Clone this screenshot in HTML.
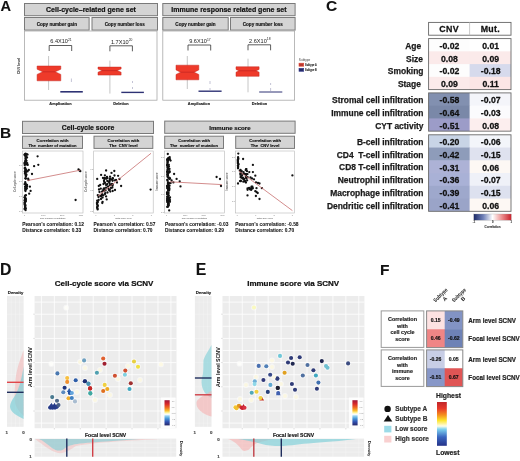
<!DOCTYPE html>
<html><head><meta charset="utf-8"><style>
html,body{margin:0;padding:0;background:#fff;}
body{width:520px;height:461px;overflow:hidden;}
svg{display:block;filter:blur(0.3px);font-family:'Liberation Sans', sans-serif;}
</style></head><body>
<svg width="520" height="461" viewBox="0 0 520 461">
<text x="0.50" y="11.20" font-size="14.6" font-weight="bold" text-anchor="start" fill="#111" stroke="#111" stroke-width="0.10" stroke-linejoin="round" >A</text>
<text x="0.00" y="137.70" font-size="15.5" font-weight="bold" text-anchor="start" fill="#111" stroke="#111" stroke-width="0.10" stroke-linejoin="round" >B</text>
<text x="325.90" y="11.30" font-size="15.5" font-weight="bold" text-anchor="start" fill="#111" stroke="#111" stroke-width="0.10" stroke-linejoin="round" >C</text>
<text x="0.00" y="274.60" font-size="15.8" font-weight="bold" text-anchor="start" fill="#111" stroke="#111" stroke-width="0.10" stroke-linejoin="round" >D</text>
<text x="195.70" y="274.60" font-size="15.8" font-weight="bold" text-anchor="start" fill="#111" stroke="#111" stroke-width="0.10" stroke-linejoin="round" >E</text>
<text x="380.00" y="274.60" font-size="15.5" font-weight="bold" text-anchor="start" fill="#111" stroke="#111" stroke-width="0.10" stroke-linejoin="round" >F</text>
<rect x="24.50" y="3.50" width="133.00" height="12.20" fill="#d4d4d4" stroke="#7a7a7a" stroke-width="1" />
<text x="91.00" y="11.90" font-size="7.0" font-weight="bold" text-anchor="middle" fill="#111" stroke="#111" stroke-width="0.21" stroke-linejoin="round" >Cell-cycle–related gene set</text>
<rect x="24.50" y="17.50" width="64.60" height="12.60" fill="#d4d4d4" stroke="#7a7a7a" stroke-width="1" />
<text x="56.80" y="25.50" font-size="4.6" font-weight="bold" text-anchor="middle" fill="#111" stroke="#111" stroke-width="0.14" stroke-linejoin="round" >Copy number gain</text>
<rect x="92.00" y="17.50" width="65.50" height="12.60" fill="#d4d4d4" stroke="#7a7a7a" stroke-width="1" />
<text x="124.75" y="25.50" font-size="4.6" font-weight="bold" text-anchor="middle" fill="#111" stroke="#111" stroke-width="0.14" stroke-linejoin="round" >Copy number loss</text>
<rect x="24.50" y="31.00" width="132.50" height="69.20" fill="#ffffff" stroke="#a8a8a8" stroke-width="0.8" />
<rect x="162.80" y="3.50" width="132.30" height="12.20" fill="#d4d4d4" stroke="#7a7a7a" stroke-width="1" />
<text x="228.95" y="11.90" font-size="7.0" font-weight="bold" text-anchor="middle" fill="#111" stroke="#111" stroke-width="0.21" stroke-linejoin="round" >Immune response related gene set</text>
<rect x="162.80" y="17.50" width="65.40" height="12.60" fill="#d4d4d4" stroke="#7a7a7a" stroke-width="1" />
<text x="195.50" y="25.50" font-size="4.6" font-weight="bold" text-anchor="middle" fill="#111" stroke="#111" stroke-width="0.14" stroke-linejoin="round" >Copy number gain</text>
<rect x="230.50" y="17.50" width="64.60" height="12.60" fill="#d4d4d4" stroke="#7a7a7a" stroke-width="1" />
<text x="262.80" y="25.50" font-size="4.6" font-weight="bold" text-anchor="middle" fill="#111" stroke="#111" stroke-width="0.14" stroke-linejoin="round" >Copy number loss</text>
<rect x="162.80" y="31.00" width="131.80" height="69.20" fill="#ffffff" stroke="#a8a8a8" stroke-width="0.8" />
<text x="0" y="0" font-size="3.6" font-weight="bold" fill="#222" text-anchor="middle" transform="translate(19.6,66) rotate(-90)">CNV level</text>
<text x="22.30" y="35.50" font-size="2.5" font-weight="normal" text-anchor="end" fill="#888" >-</text>
<text x="160.60" y="35.50" font-size="2.5" font-weight="normal" text-anchor="end" fill="#888" >-</text>
<text x="22.30" y="57.00" font-size="2.5" font-weight="normal" text-anchor="end" fill="#888" >-</text>
<text x="160.60" y="57.00" font-size="2.5" font-weight="normal" text-anchor="end" fill="#888" >-</text>
<text x="22.30" y="78.00" font-size="2.5" font-weight="normal" text-anchor="end" fill="#888" >-</text>
<text x="160.60" y="78.00" font-size="2.5" font-weight="normal" text-anchor="end" fill="#888" >-</text>
<text x="22.30" y="98.00" font-size="2.5" font-weight="normal" text-anchor="end" fill="#888" >-</text>
<text x="160.60" y="98.00" font-size="2.5" font-weight="normal" text-anchor="end" fill="#888" >-</text>
<line x1="48.60" y1="56.00" x2="48.60" y2="90.00" stroke="#b8b8b8" stroke-width="0.8" />
<polygon points="37.10,66.00 60.80,66.00 60.80,69.20 55.20,71.80 60.80,74.40 60.80,80.80 37.10,80.80 37.10,74.40 42.70,71.80 37.10,69.20" fill="#ee3a2a" stroke="#c42a22" stroke-width="0.5"/>
<line x1="42.70" y1="71.80" x2="55.20" y2="71.80" stroke="#b82020" stroke-width="0.6" />
<line x1="60.30" y1="91.80" x2="82.80" y2="91.80" stroke="#2e3274" stroke-width="1.6" />
<line x1="71.40" y1="78.50" x2="71.40" y2="82.00" stroke="#9a9ab8" stroke-width="0.6" />
<polyline points="49.20,51.00 49.20,45.50 71.70,45.50 71.70,51.00" fill="none" stroke="#333" stroke-width="0.8"/>
<text x="60.95" y="43.20" font-size="5.6" text-anchor="middle" fill="#222">6.4X10<tspan font-size="3.3" dy="-2.1">21</tspan></text>
<line x1="109.90" y1="60.60" x2="109.90" y2="93.60" stroke="#b8b8b8" stroke-width="0.8" />
<polygon points="98.00,67.10 121.10,67.10 121.10,69.00 117.10,70.60 121.10,72.20 121.10,75.10 98.00,75.10 98.00,72.20 102.00,70.60 98.00,69.00" fill="#ee3a2a" stroke="#c42a22" stroke-width="0.5"/>
<line x1="102.00" y1="70.60" x2="117.10" y2="70.60" stroke="#b82020" stroke-width="0.6" />
<line x1="121.30" y1="92.40" x2="143.90" y2="92.40" stroke="#2e3274" stroke-width="1.4" />
<line x1="132.50" y1="81.00" x2="132.50" y2="83.00" stroke="#9a9ab8" stroke-width="0.6" />
<line x1="132.50" y1="87.00" x2="132.50" y2="89.00" stroke="#9a9ab8" stroke-width="0.6" />
<polyline points="109.90,51.30 109.90,45.80 132.40,45.80 132.40,51.30" fill="none" stroke="#333" stroke-width="0.8"/>
<text x="121.65" y="43.50" font-size="5.6" text-anchor="middle" fill="#222">1.7X10<tspan font-size="3.3" dy="-2.1">20</tspan></text>
<line x1="187.30" y1="56.00" x2="187.30" y2="89.00" stroke="#b8b8b8" stroke-width="0.8" />
<polygon points="176.00,65.20 198.80,65.20 198.80,69.90 194.20,72.20 198.80,74.50 198.80,79.80 176.00,79.80 176.00,74.50 180.60,72.20 176.00,69.90" fill="#ee3a2a" stroke="#c42a22" stroke-width="0.5"/>
<line x1="180.60" y1="72.20" x2="194.20" y2="72.20" stroke="#b82020" stroke-width="0.6" />
<line x1="198.50" y1="91.20" x2="221.60" y2="91.20" stroke="#2e3274" stroke-width="1.4" />
<line x1="210.00" y1="81.00" x2="210.00" y2="84.00" stroke="#9a9ab8" stroke-width="0.6" />
<line x1="210.00" y1="88.00" x2="210.00" y2="90.00" stroke="#9a9ab8" stroke-width="0.6" />
<polyline points="188.00,50.50 188.00,45.00 210.70,45.00 210.70,50.50" fill="none" stroke="#333" stroke-width="0.8"/>
<text x="199.85" y="42.70" font-size="5.6" text-anchor="middle" fill="#222">9.6X10<tspan font-size="3.3" dy="-2.1">17</tspan></text>
<line x1="248.00" y1="58.70" x2="248.00" y2="92.30" stroke="#b8b8b8" stroke-width="0.8" />
<polygon points="236.00,66.80 259.10,66.80 259.10,69.40 256.20,70.80 259.10,72.20 259.10,76.30 236.00,76.30 236.00,72.20 238.90,70.80 236.00,69.40" fill="#ee3a2a" stroke="#c42a22" stroke-width="0.5"/>
<line x1="238.90" y1="70.80" x2="256.20" y2="70.80" stroke="#b82020" stroke-width="0.6" />
<line x1="259.20" y1="92.00" x2="282.30" y2="92.00" stroke="#2e3274" stroke-width="1.0" />
<line x1="270.60" y1="83.00" x2="270.60" y2="85.00" stroke="#9a9ab8" stroke-width="0.6" />
<line x1="270.60" y1="88.00" x2="270.60" y2="91.00" stroke="#9a9ab8" stroke-width="0.6" />
<polyline points="248.00,50.30 248.00,44.80 270.60,44.80 270.60,50.30" fill="none" stroke="#333" stroke-width="0.8"/>
<text x="259.80" y="42.50" font-size="5.6" text-anchor="middle" fill="#222">2.6X10<tspan font-size="3.3" dy="-2.1">18</tspan></text>
<text x="60.50" y="104.60" font-size="3.9" font-weight="bold" text-anchor="middle" fill="#222" stroke="#222" stroke-width="0.14" stroke-linejoin="round" >Amplication</text>
<text x="121.00" y="104.60" font-size="3.9" font-weight="bold" text-anchor="middle" fill="#222" stroke="#222" stroke-width="0.14" stroke-linejoin="round" >Deletion</text>
<text x="199.00" y="104.60" font-size="3.9" font-weight="bold" text-anchor="middle" fill="#222" stroke="#222" stroke-width="0.14" stroke-linejoin="round" >Amplication</text>
<text x="259.50" y="104.60" font-size="3.9" font-weight="bold" text-anchor="middle" fill="#222" stroke="#222" stroke-width="0.14" stroke-linejoin="round" >Deletion</text>
<text x="298.80" y="60.60" font-size="3.4" font-weight="normal" text-anchor="start" fill="#444" textLength="11.5" lengthAdjust="spacingAndGlyphs">Subtype</text>
<rect x="299.00" y="63.20" width="4.70" height="3.00" fill="#b83a30" stroke="#e04434" stroke-width="0.6" />
<rect x="299.00" y="68.30" width="4.70" height="3.00" fill="#252a68" stroke="#3a4090" stroke-width="0.6" />
<text x="305.10" y="65.70" font-size="3.4" font-weight="bold" text-anchor="start" fill="#333" stroke="#333" stroke-width="0.14" stroke-linejoin="round" textLength="11.6" lengthAdjust="spacingAndGlyphs">Subtype A</text>
<text x="305.10" y="70.80" font-size="3.4" font-weight="bold" text-anchor="start" fill="#333" stroke="#333" stroke-width="0.14" stroke-linejoin="round" textLength="11.6" lengthAdjust="spacingAndGlyphs">Subtype B</text>
<rect x="22.50" y="121.30" width="131.00" height="12.20" fill="#d4d4d4" stroke="#7a7a7a" stroke-width="1" />
<text x="88.00" y="130.30" font-size="6.9" font-weight="bold" text-anchor="middle" fill="#111" stroke="#111" stroke-width="0.21" stroke-linejoin="round" >Cell-cycle score</text>
<rect x="164.70" y="121.10" width="130.40" height="12.20" fill="#d4d4d4" stroke="#7a7a7a" stroke-width="1" />
<text x="229.90" y="129.60" font-size="6.1" font-weight="bold" text-anchor="middle" fill="#111" stroke="#111" stroke-width="0.18" stroke-linejoin="round" >Immune score</text>
<rect x="22.50" y="136.20" width="60.00" height="12.20" fill="#d4d4d4" stroke="#7a7a7a" stroke-width="1" />
<text x="52.50" y="141.60" font-size="4.2" font-weight="bold" text-anchor="middle" fill="#111" stroke="#111" stroke-width="0.14" stroke-linejoin="round" xml:space="preserve">Correlation with</text>
<text x="52.50" y="146.50" font-size="4.1" font-weight="bold" text-anchor="middle" fill="#111" stroke="#111" stroke-width="0.14" stroke-linejoin="round" xml:space="preserve">The  number of mutation</text>
<rect x="94.00" y="136.20" width="58.80" height="12.20" fill="#d4d4d4" stroke="#7a7a7a" stroke-width="1" />
<text x="123.40" y="141.60" font-size="4.2" font-weight="bold" text-anchor="middle" fill="#111" stroke="#111" stroke-width="0.14" stroke-linejoin="round" xml:space="preserve">Correlation with</text>
<text x="123.40" y="146.50" font-size="4.1" font-weight="bold" text-anchor="middle" fill="#111" stroke="#111" stroke-width="0.14" stroke-linejoin="round" xml:space="preserve">The  CNV level</text>
<rect x="164.70" y="136.20" width="58.80" height="12.20" fill="#d4d4d4" stroke="#7a7a7a" stroke-width="1" />
<text x="194.10" y="141.60" font-size="4.2" font-weight="bold" text-anchor="middle" fill="#111" stroke="#111" stroke-width="0.14" stroke-linejoin="round" xml:space="preserve">Correlation with</text>
<text x="194.10" y="146.50" font-size="4.1" font-weight="bold" text-anchor="middle" fill="#111" stroke="#111" stroke-width="0.14" stroke-linejoin="round" xml:space="preserve">The  number of mutation</text>
<rect x="235.70" y="136.20" width="58.80" height="12.20" fill="#d4d4d4" stroke="#7a7a7a" stroke-width="1" />
<text x="265.10" y="141.60" font-size="4.2" font-weight="bold" text-anchor="middle" fill="#111" stroke="#111" stroke-width="0.14" stroke-linejoin="round" xml:space="preserve">Correlation with</text>
<text x="265.10" y="146.50" font-size="4.1" font-weight="bold" text-anchor="middle" fill="#111" stroke="#111" stroke-width="0.14" stroke-linejoin="round" xml:space="preserve">The  CNV level</text>
<rect x="22.50" y="151.00" width="60.50" height="62.00" fill="#fff" stroke="#b8b8b8" stroke-width="0.6" />
<rect x="93.70" y="151.00" width="59.50" height="62.00" fill="#fff" stroke="#b8b8b8" stroke-width="0.6" />
<rect x="164.50" y="151.00" width="59.90" height="62.00" fill="#fff" stroke="#b8b8b8" stroke-width="0.6" />
<rect x="235.40" y="151.00" width="59.00" height="62.00" fill="#fff" stroke="#b8b8b8" stroke-width="0.6" />
<text x="0" y="0" font-size="2.7" font-weight="bold" fill="#666" text-anchor="middle" transform="translate(15.50,181.5) rotate(-90)">Cell-cycle score</text>
<text x="21.90" y="166.30" font-size="2.1" font-weight="normal" text-anchor="end" fill="#777" >0.0</text>
<line x1="22.00" y1="165.50" x2="22.50" y2="165.50" stroke="#999" stroke-width="0.3" />
<text x="21.90" y="181.50" font-size="2.1" font-weight="normal" text-anchor="end" fill="#777" >0.0</text>
<line x1="22.00" y1="180.70" x2="22.50" y2="180.70" stroke="#999" stroke-width="0.3" />
<text x="21.90" y="196.90" font-size="2.1" font-weight="normal" text-anchor="end" fill="#777" >0.0</text>
<line x1="22.00" y1="196.10" x2="22.50" y2="196.10" stroke="#999" stroke-width="0.3" />
<text x="21.90" y="212.10" font-size="2.1" font-weight="normal" text-anchor="end" fill="#777" >0.0</text>
<line x1="22.00" y1="211.30" x2="22.50" y2="211.30" stroke="#999" stroke-width="0.3" />
<text x="52.75" y="218.60" font-size="2.4" font-weight="normal" text-anchor="middle" fill="#444" >The number of mutation</text>
<text x="24.50" y="215.60" font-size="2.0" font-weight="normal" text-anchor="middle" fill="#777" >0</text>
<text x="43.33" y="215.60" font-size="2.0" font-weight="normal" text-anchor="middle" fill="#777" >1000</text>
<text x="62.17" y="215.60" font-size="2.0" font-weight="normal" text-anchor="middle" fill="#777" >2000</text>
<text x="81.00" y="215.60" font-size="2.0" font-weight="normal" text-anchor="middle" fill="#777" >3000</text>
<text x="0" y="0" font-size="2.7" font-weight="bold" fill="#666" text-anchor="middle" transform="translate(86.70,181.5) rotate(-90)">Cell-cycle score</text>
<text x="93.10" y="170.10" font-size="2.1" font-weight="normal" text-anchor="end" fill="#777" >0.0</text>
<line x1="93.20" y1="169.30" x2="93.70" y2="169.30" stroke="#999" stroke-width="0.3" />
<text x="93.10" y="191.30" font-size="2.1" font-weight="normal" text-anchor="end" fill="#777" >0.0</text>
<line x1="93.20" y1="190.50" x2="93.70" y2="190.50" stroke="#999" stroke-width="0.3" />
<text x="93.10" y="211.80" font-size="2.1" font-weight="normal" text-anchor="end" fill="#777" >0.0</text>
<line x1="93.20" y1="211.00" x2="93.70" y2="211.00" stroke="#999" stroke-width="0.3" />
<text x="123.45" y="218.60" font-size="2.4" font-weight="normal" text-anchor="middle" fill="#444" >Total CNV level</text>
<text x="95.70" y="215.60" font-size="2.0" font-weight="normal" text-anchor="middle" fill="#777" >0</text>
<text x="114.20" y="215.60" font-size="2.0" font-weight="normal" text-anchor="middle" fill="#777" >1</text>
<text x="132.70" y="215.60" font-size="2.0" font-weight="normal" text-anchor="middle" fill="#777" >2</text>
<text x="151.20" y="215.60" font-size="2.0" font-weight="normal" text-anchor="middle" fill="#777" >3</text>
<text x="0" y="0" font-size="2.7" font-weight="bold" fill="#666" text-anchor="middle" transform="translate(157.50,181.5) rotate(-90)">Immune score</text>
<text x="163.90" y="158.30" font-size="2.1" font-weight="normal" text-anchor="end" fill="#777" >0.0</text>
<line x1="164.00" y1="157.50" x2="164.50" y2="157.50" stroke="#999" stroke-width="0.3" />
<text x="163.90" y="176.70" font-size="2.1" font-weight="normal" text-anchor="end" fill="#777" >0.0</text>
<line x1="164.00" y1="175.90" x2="164.50" y2="175.90" stroke="#999" stroke-width="0.3" />
<text x="163.90" y="195.30" font-size="2.1" font-weight="normal" text-anchor="end" fill="#777" >0.0</text>
<line x1="164.00" y1="194.50" x2="164.50" y2="194.50" stroke="#999" stroke-width="0.3" />
<text x="163.90" y="212.60" font-size="2.1" font-weight="normal" text-anchor="end" fill="#777" >0.0</text>
<line x1="164.00" y1="211.80" x2="164.50" y2="211.80" stroke="#999" stroke-width="0.3" />
<text x="194.45" y="218.60" font-size="2.4" font-weight="normal" text-anchor="middle" fill="#444" >The number of mutation</text>
<text x="166.50" y="215.60" font-size="2.0" font-weight="normal" text-anchor="middle" fill="#777" >0</text>
<text x="185.13" y="215.60" font-size="2.0" font-weight="normal" text-anchor="middle" fill="#777" >1000</text>
<text x="203.77" y="215.60" font-size="2.0" font-weight="normal" text-anchor="middle" fill="#777" >2000</text>
<text x="222.40" y="215.60" font-size="2.0" font-weight="normal" text-anchor="middle" fill="#777" >3000</text>
<text x="0" y="0" font-size="2.7" font-weight="bold" fill="#666" text-anchor="middle" transform="translate(228.40,181.5) rotate(-90)">Immune score</text>
<text x="234.80" y="157.60" font-size="2.1" font-weight="normal" text-anchor="end" fill="#777" >0.0</text>
<line x1="234.90" y1="156.80" x2="235.40" y2="156.80" stroke="#999" stroke-width="0.3" />
<text x="234.80" y="172.20" font-size="2.1" font-weight="normal" text-anchor="end" fill="#777" >0.0</text>
<line x1="234.90" y1="171.40" x2="235.40" y2="171.40" stroke="#999" stroke-width="0.3" />
<text x="234.80" y="187.10" font-size="2.1" font-weight="normal" text-anchor="end" fill="#777" >0.0</text>
<line x1="234.90" y1="186.30" x2="235.40" y2="186.30" stroke="#999" stroke-width="0.3" />
<text x="234.80" y="201.70" font-size="2.1" font-weight="normal" text-anchor="end" fill="#777" >0.0</text>
<line x1="234.90" y1="200.90" x2="235.40" y2="200.90" stroke="#999" stroke-width="0.3" />
<text x="264.90" y="218.60" font-size="2.4" font-weight="normal" text-anchor="middle" fill="#444" >Total CNV level</text>
<text x="237.40" y="215.60" font-size="2.0" font-weight="normal" text-anchor="middle" fill="#777" >0</text>
<text x="255.73" y="215.60" font-size="2.0" font-weight="normal" text-anchor="middle" fill="#777" >1</text>
<text x="274.07" y="215.60" font-size="2.0" font-weight="normal" text-anchor="middle" fill="#777" >2</text>
<text x="292.40" y="215.60" font-size="2.0" font-weight="normal" text-anchor="middle" fill="#777" >3</text>
<circle cx="25.87" cy="159.21" r="1.15" fill="#111" />
<circle cx="26.41" cy="164.34" r="1.15" fill="#111" />
<circle cx="26.39" cy="174.56" r="1.15" fill="#111" />
<circle cx="25.19" cy="187.02" r="1.15" fill="#111" />
<circle cx="27.03" cy="157.49" r="1.15" fill="#111" />
<circle cx="25.04" cy="171.89" r="1.15" fill="#111" />
<circle cx="26.01" cy="185.90" r="1.15" fill="#111" />
<circle cx="24.62" cy="184.17" r="1.15" fill="#111" />
<circle cx="27.23" cy="163.22" r="1.15" fill="#111" />
<circle cx="25.54" cy="154.80" r="1.15" fill="#111" />
<circle cx="27.57" cy="154.58" r="1.15" fill="#111" />
<circle cx="25.39" cy="169.70" r="1.15" fill="#111" />
<circle cx="24.88" cy="162.71" r="1.15" fill="#111" />
<circle cx="24.75" cy="162.92" r="1.15" fill="#111" />
<circle cx="25.55" cy="172.11" r="1.15" fill="#111" />
<circle cx="24.62" cy="163.31" r="1.15" fill="#111" />
<circle cx="25.64" cy="162.80" r="1.15" fill="#111" />
<circle cx="24.87" cy="154.41" r="1.15" fill="#111" />
<circle cx="26.35" cy="189.10" r="1.15" fill="#111" />
<circle cx="25.25" cy="161.40" r="1.15" fill="#111" />
<circle cx="25.02" cy="195.68" r="1.15" fill="#111" />
<circle cx="25.11" cy="167.64" r="1.15" fill="#111" />
<circle cx="25.34" cy="184.16" r="1.15" fill="#111" />
<circle cx="27.56" cy="171.44" r="1.15" fill="#111" />
<circle cx="25.13" cy="188.78" r="1.15" fill="#111" />
<circle cx="25.57" cy="178.47" r="1.15" fill="#111" />
<circle cx="25.48" cy="191.01" r="1.15" fill="#111" />
<circle cx="25.87" cy="178.53" r="1.15" fill="#111" />
<circle cx="24.71" cy="154.97" r="1.15" fill="#111" />
<circle cx="26.92" cy="171.11" r="1.15" fill="#111" />
<circle cx="26.53" cy="160.85" r="1.15" fill="#111" />
<circle cx="25.21" cy="182.17" r="1.15" fill="#111" />
<circle cx="26.04" cy="169.42" r="1.15" fill="#111" />
<circle cx="25.18" cy="186.58" r="1.15" fill="#111" />
<circle cx="25.78" cy="175.64" r="1.15" fill="#111" />
<circle cx="25.54" cy="154.76" r="1.15" fill="#111" />
<circle cx="25.67" cy="155.35" r="1.15" fill="#111" />
<circle cx="28.16" cy="178.71" r="1.15" fill="#111" />
<circle cx="25.34" cy="170.23" r="1.15" fill="#111" />
<circle cx="25.95" cy="195.24" r="1.15" fill="#111" />
<circle cx="27.10" cy="186.25" r="1.15" fill="#111" />
<circle cx="25.24" cy="163.37" r="1.15" fill="#111" />
<circle cx="26.23" cy="175.34" r="1.15" fill="#111" />
<circle cx="25.10" cy="173.01" r="1.15" fill="#111" />
<circle cx="27.72" cy="164.94" r="1.15" fill="#111" />
<circle cx="25.57" cy="153.74" r="1.15" fill="#111" />
<circle cx="25.76" cy="186.81" r="1.15" fill="#111" />
<circle cx="27.05" cy="184.97" r="1.15" fill="#111" />
<circle cx="26.26" cy="187.89" r="1.15" fill="#111" />
<circle cx="24.80" cy="171.61" r="1.15" fill="#111" />
<circle cx="25.76" cy="155.89" r="1.15" fill="#111" />
<circle cx="25.83" cy="161.99" r="1.15" fill="#111" />
<circle cx="25.82" cy="174.95" r="1.15" fill="#111" />
<circle cx="24.72" cy="168.21" r="1.15" fill="#111" />
<circle cx="25.88" cy="176.39" r="1.15" fill="#111" />
<circle cx="25.85" cy="172.97" r="1.15" fill="#111" />
<circle cx="24.70" cy="154.69" r="1.15" fill="#111" />
<circle cx="25.41" cy="178.34" r="1.15" fill="#111" />
<circle cx="25.30" cy="190.09" r="1.15" fill="#111" />
<circle cx="26.82" cy="188.20" r="1.15" fill="#111" />
<circle cx="25.66" cy="164.35" r="1.15" fill="#111" />
<circle cx="26.23" cy="157.04" r="1.15" fill="#111" />
<circle cx="26.77" cy="154.21" r="1.15" fill="#111" />
<circle cx="24.80" cy="164.11" r="1.15" fill="#111" />
<circle cx="25.45" cy="158.15" r="1.15" fill="#111" />
<circle cx="25.44" cy="156.45" r="1.15" fill="#111" />
<circle cx="25.38" cy="160.28" r="1.15" fill="#111" />
<circle cx="24.74" cy="165.10" r="1.15" fill="#111" />
<circle cx="25.70" cy="183.74" r="1.15" fill="#111" />
<circle cx="24.92" cy="173.64" r="1.15" fill="#111" />
<circle cx="24.96" cy="197.32" r="1.15" fill="#111" />
<circle cx="24.73" cy="202.72" r="1.15" fill="#111" />
<circle cx="25.58" cy="198.48" r="1.15" fill="#111" />
<circle cx="24.75" cy="203.94" r="1.15" fill="#111" />
<circle cx="25.48" cy="205.24" r="1.15" fill="#111" />
<circle cx="24.52" cy="197.28" r="1.15" fill="#111" />
<circle cx="25.36" cy="198.99" r="1.15" fill="#111" />
<circle cx="25.35" cy="199.18" r="1.15" fill="#111" />
<circle cx="25.15" cy="206.22" r="1.15" fill="#111" />
<circle cx="25.67" cy="200.00" r="1.15" fill="#111" />
<circle cx="25.12" cy="207.85" r="1.15" fill="#111" />
<circle cx="25.28" cy="200.04" r="1.15" fill="#111" />
<circle cx="25.19" cy="202.37" r="1.15" fill="#111" />
<circle cx="25.26" cy="201.37" r="1.15" fill="#111" />
<circle cx="24.86" cy="197.80" r="1.15" fill="#111" />
<circle cx="25.55" cy="210.16" r="1.15" fill="#111" />
<circle cx="25.53" cy="201.17" r="1.15" fill="#111" />
<circle cx="25.63" cy="201.22" r="1.15" fill="#111" />
<circle cx="25.00" cy="207.12" r="1.15" fill="#111" />
<circle cx="24.51" cy="200.43" r="1.15" fill="#111" />
<circle cx="24.55" cy="208.95" r="1.15" fill="#111" />
<circle cx="25.65" cy="208.14" r="1.15" fill="#111" />
<circle cx="24.71" cy="204.76" r="1.15" fill="#111" />
<circle cx="25.67" cy="208.80" r="1.15" fill="#111" />
<circle cx="25.11" cy="206.57" r="1.15" fill="#111" />
<circle cx="24.92" cy="202.14" r="1.15" fill="#111" />
<circle cx="25.31" cy="199.80" r="1.15" fill="#111" />
<circle cx="24.73" cy="202.89" r="1.15" fill="#111" />
<circle cx="25.30" cy="198.42" r="1.15" fill="#111" />
<circle cx="25.10" cy="201.03" r="1.15" fill="#111" />
<circle cx="37.60" cy="156.30" r="1.15" fill="#111" />
<circle cx="38.30" cy="164.80" r="1.15" fill="#111" />
<circle cx="34.10" cy="166.20" r="1.15" fill="#111" />
<circle cx="32.00" cy="174.00" r="1.15" fill="#111" />
<circle cx="30.60" cy="190.90" r="1.15" fill="#111" />
<circle cx="29.20" cy="193.70" r="1.15" fill="#111" />
<circle cx="29.90" cy="186.70" r="1.15" fill="#111" />
<circle cx="28.50" cy="180.00" r="1.15" fill="#111" />
<circle cx="28.80" cy="170.00" r="1.15" fill="#111" />
<circle cx="75.60" cy="200.00" r="1.15" fill="#111" />
<circle cx="78.50" cy="169.50" r="1.15" fill="#111" />
<circle cx="79.50" cy="170.50" r="1.15" fill="#111" />
<circle cx="80.30" cy="171.20" r="1.15" fill="#111" />
<line x1="27.40" y1="180.60" x2="80.30" y2="170.20" stroke="#c87070" stroke-width="0.8" />
<circle cx="106.10" cy="170.50" r="1.15" fill="#111" />
<circle cx="114.30" cy="171.00" r="1.15" fill="#111" />
<circle cx="101.10" cy="174.90" r="1.15" fill="#111" />
<circle cx="104.90" cy="175.30" r="1.15" fill="#111" />
<circle cx="111.50" cy="172.90" r="1.15" fill="#111" />
<circle cx="114.50" cy="175.50" r="1.15" fill="#111" />
<circle cx="118.10" cy="175.80" r="1.15" fill="#111" />
<circle cx="97.20" cy="178.90" r="1.15" fill="#111" />
<circle cx="121.10" cy="186.00" r="1.15" fill="#111" />
<circle cx="100.20" cy="185.00" r="1.15" fill="#111" />
<circle cx="106.10" cy="185.00" r="1.15" fill="#111" />
<circle cx="100.80" cy="188.70" r="1.15" fill="#111" />
<circle cx="103.70" cy="188.70" r="1.15" fill="#111" />
<circle cx="108.50" cy="188.70" r="1.15" fill="#111" />
<circle cx="110.30" cy="191.60" r="1.15" fill="#111" />
<circle cx="112.70" cy="191.00" r="1.15" fill="#111" />
<circle cx="102.00" cy="191.60" r="1.15" fill="#111" />
<circle cx="97.80" cy="195.20" r="1.15" fill="#111" />
<circle cx="102.00" cy="194.60" r="1.15" fill="#111" />
<circle cx="105.00" cy="194.00" r="1.15" fill="#111" />
<circle cx="102.60" cy="197.60" r="1.15" fill="#111" />
<circle cx="106.10" cy="196.40" r="1.15" fill="#111" />
<circle cx="106.70" cy="199.40" r="1.15" fill="#111" />
<circle cx="102.60" cy="201.80" r="1.15" fill="#111" />
<circle cx="102.30" cy="203.00" r="1.15" fill="#111" />
<circle cx="150.60" cy="189.60" r="1.15" fill="#111" />
<circle cx="99.50" cy="192.00" r="1.15" fill="#111" />
<circle cx="98.50" cy="197.00" r="1.15" fill="#111" />
<circle cx="104.00" cy="181.00" r="1.15" fill="#111" />
<circle cx="109.00" cy="182.00" r="1.15" fill="#111" />
<circle cx="112.00" cy="184.00" r="1.15" fill="#111" />
<circle cx="116.00" cy="180.00" r="1.15" fill="#111" />
<circle cx="103.00" cy="178.00" r="1.15" fill="#111" />
<circle cx="107.00" cy="177.00" r="1.15" fill="#111" />
<circle cx="110.00" cy="179.00" r="1.15" fill="#111" />
<circle cx="113.00" cy="178.50" r="1.15" fill="#111" />
<circle cx="105.00" cy="183.00" r="1.15" fill="#111" />
<circle cx="108.00" cy="186.50" r="1.15" fill="#111" />
<circle cx="111.00" cy="188.00" r="1.15" fill="#111" />
<circle cx="99.00" cy="189.50" r="1.15" fill="#111" />
<circle cx="104.50" cy="190.50" r="1.15" fill="#111" />
<circle cx="101.00" cy="199.00" r="1.15" fill="#111" />
<circle cx="115.00" cy="190.00" r="1.15" fill="#111" />
<circle cx="117.00" cy="182.50" r="1.15" fill="#111" />
<circle cx="119.50" cy="179.00" r="1.15" fill="#111" />
<circle cx="98.80" cy="186.00" r="1.15" fill="#111" />
<circle cx="107.50" cy="192.50" r="1.15" fill="#111" />
<circle cx="104.30" cy="179.00" r="1.15" fill="#111" />
<circle cx="104.30" cy="182.00" r="1.15" fill="#111" />
<circle cx="107.30" cy="178.00" r="1.15" fill="#111" />
<circle cx="107.30" cy="181.00" r="1.15" fill="#111" />
<circle cx="107.30" cy="184.00" r="1.15" fill="#111" />
<circle cx="109.70" cy="180.50" r="1.15" fill="#111" />
<circle cx="109.70" cy="183.50" r="1.15" fill="#111" />
<circle cx="114.50" cy="180.30" r="1.15" fill="#111" />
<circle cx="112.58" cy="178.11" r="1.15" fill="#111" />
<circle cx="103.24" cy="190.98" r="1.15" fill="#111" />
<circle cx="104.84" cy="177.81" r="1.15" fill="#111" />
<circle cx="109.51" cy="181.18" r="1.15" fill="#111" />
<circle cx="111.90" cy="179.48" r="1.15" fill="#111" />
<circle cx="112.59" cy="180.79" r="1.15" fill="#111" />
<circle cx="109.01" cy="189.98" r="1.15" fill="#111" />
<circle cx="109.85" cy="189.86" r="1.15" fill="#111" />
<circle cx="110.08" cy="176.73" r="1.15" fill="#111" />
<circle cx="111.81" cy="184.84" r="1.15" fill="#111" />
<circle cx="106.11" cy="178.85" r="1.15" fill="#111" />
<circle cx="111.50" cy="184.74" r="1.15" fill="#111" />
<circle cx="112.38" cy="187.61" r="1.15" fill="#111" />
<circle cx="112.61" cy="184.49" r="1.15" fill="#111" />
<circle cx="109.98" cy="185.18" r="1.15" fill="#111" />
<circle cx="105.58" cy="190.35" r="1.15" fill="#111" />
<circle cx="106.12" cy="187.72" r="1.15" fill="#111" />
<circle cx="112.55" cy="185.76" r="1.15" fill="#111" />
<circle cx="104.42" cy="188.38" r="1.15" fill="#111" />
<circle cx="109.68" cy="178.78" r="1.15" fill="#111" />
<circle cx="103.49" cy="183.98" r="1.15" fill="#111" />
<circle cx="103.32" cy="189.88" r="1.15" fill="#111" />
<circle cx="102.05" cy="195.17" r="1.15" fill="#111" />
<circle cx="101.28" cy="196.61" r="1.15" fill="#111" />
<circle cx="105.33" cy="193.07" r="1.15" fill="#111" />
<circle cx="100.99" cy="195.83" r="1.15" fill="#111" />
<circle cx="100.38" cy="195.96" r="1.15" fill="#111" />
<circle cx="102.34" cy="194.33" r="1.15" fill="#111" />
<circle cx="103.39" cy="195.28" r="1.15" fill="#111" />
<circle cx="98.70" cy="199.96" r="1.15" fill="#111" />
<circle cx="97.19" cy="200.60" r="1.15" fill="#111" />
<circle cx="97.68" cy="201.40" r="1.15" fill="#111" />
<circle cx="97.71" cy="202.20" r="1.15" fill="#111" />
<circle cx="96.92" cy="203.00" r="1.15" fill="#111" />
<circle cx="97.08" cy="203.80" r="1.15" fill="#111" />
<circle cx="97.19" cy="204.60" r="1.15" fill="#111" />
<circle cx="97.79" cy="205.40" r="1.15" fill="#111" />
<circle cx="97.60" cy="206.20" r="1.15" fill="#111" />
<circle cx="97.21" cy="207.00" r="1.15" fill="#111" />
<circle cx="97.09" cy="207.80" r="1.15" fill="#111" />
<circle cx="97.51" cy="208.60" r="1.15" fill="#111" />
<circle cx="97.65" cy="209.40" r="1.15" fill="#111" />
<line x1="98.00" y1="196.00" x2="151.00" y2="153.30" stroke="#c87070" stroke-width="0.8" />
<circle cx="168.29" cy="168.90" r="1.15" fill="#111" />
<circle cx="167.37" cy="187.20" r="1.15" fill="#111" />
<circle cx="167.21" cy="188.29" r="1.15" fill="#111" />
<circle cx="167.09" cy="198.87" r="1.15" fill="#111" />
<circle cx="167.45" cy="169.97" r="1.15" fill="#111" />
<circle cx="171.59" cy="180.51" r="1.15" fill="#111" />
<circle cx="168.98" cy="198.82" r="1.15" fill="#111" />
<circle cx="167.30" cy="164.53" r="1.15" fill="#111" />
<circle cx="168.15" cy="188.74" r="1.15" fill="#111" />
<circle cx="168.26" cy="194.06" r="1.15" fill="#111" />
<circle cx="169.17" cy="190.57" r="1.15" fill="#111" />
<circle cx="167.92" cy="186.55" r="1.15" fill="#111" />
<circle cx="169.75" cy="172.06" r="1.15" fill="#111" />
<circle cx="167.54" cy="180.64" r="1.15" fill="#111" />
<circle cx="168.60" cy="192.94" r="1.15" fill="#111" />
<circle cx="168.53" cy="203.05" r="1.15" fill="#111" />
<circle cx="167.48" cy="176.75" r="1.15" fill="#111" />
<circle cx="168.44" cy="203.78" r="1.15" fill="#111" />
<circle cx="167.62" cy="200.94" r="1.15" fill="#111" />
<circle cx="167.44" cy="167.85" r="1.15" fill="#111" />
<circle cx="168.81" cy="205.27" r="1.15" fill="#111" />
<circle cx="167.77" cy="172.05" r="1.15" fill="#111" />
<circle cx="167.98" cy="182.36" r="1.15" fill="#111" />
<circle cx="167.86" cy="186.25" r="1.15" fill="#111" />
<circle cx="168.75" cy="186.21" r="1.15" fill="#111" />
<circle cx="168.20" cy="203.45" r="1.15" fill="#111" />
<circle cx="169.08" cy="199.82" r="1.15" fill="#111" />
<circle cx="167.12" cy="165.15" r="1.15" fill="#111" />
<circle cx="169.96" cy="200.03" r="1.15" fill="#111" />
<circle cx="167.67" cy="185.46" r="1.15" fill="#111" />
<circle cx="167.64" cy="192.69" r="1.15" fill="#111" />
<circle cx="169.56" cy="185.68" r="1.15" fill="#111" />
<circle cx="169.53" cy="171.25" r="1.15" fill="#111" />
<circle cx="168.07" cy="206.49" r="1.15" fill="#111" />
<circle cx="167.45" cy="161.43" r="1.15" fill="#111" />
<circle cx="168.37" cy="164.54" r="1.15" fill="#111" />
<circle cx="167.33" cy="171.69" r="1.15" fill="#111" />
<circle cx="169.82" cy="159.21" r="1.15" fill="#111" />
<circle cx="169.14" cy="187.73" r="1.15" fill="#111" />
<circle cx="167.62" cy="173.55" r="1.15" fill="#111" />
<circle cx="168.65" cy="201.05" r="1.15" fill="#111" />
<circle cx="167.20" cy="206.93" r="1.15" fill="#111" />
<circle cx="168.68" cy="172.48" r="1.15" fill="#111" />
<circle cx="167.88" cy="158.57" r="1.15" fill="#111" />
<circle cx="168.61" cy="166.87" r="1.15" fill="#111" />
<circle cx="168.05" cy="164.81" r="1.15" fill="#111" />
<circle cx="167.82" cy="159.12" r="1.15" fill="#111" />
<circle cx="167.90" cy="204.93" r="1.15" fill="#111" />
<circle cx="168.12" cy="201.83" r="1.15" fill="#111" />
<circle cx="168.08" cy="183.00" r="1.15" fill="#111" />
<circle cx="168.48" cy="189.19" r="1.15" fill="#111" />
<circle cx="168.01" cy="188.01" r="1.15" fill="#111" />
<circle cx="168.49" cy="204.03" r="1.15" fill="#111" />
<circle cx="167.07" cy="193.02" r="1.15" fill="#111" />
<circle cx="168.22" cy="168.88" r="1.15" fill="#111" />
<circle cx="170.67" cy="183.06" r="1.15" fill="#111" />
<circle cx="168.45" cy="184.42" r="1.15" fill="#111" />
<circle cx="167.10" cy="186.00" r="1.15" fill="#111" />
<circle cx="168.48" cy="158.00" r="1.15" fill="#111" />
<circle cx="168.32" cy="160.00" r="1.15" fill="#111" />
<circle cx="169.06" cy="188.37" r="1.15" fill="#111" />
<circle cx="167.44" cy="174.63" r="1.15" fill="#111" />
<circle cx="167.02" cy="192.35" r="1.15" fill="#111" />
<circle cx="167.30" cy="160.03" r="1.15" fill="#111" />
<circle cx="168.04" cy="190.80" r="1.15" fill="#111" />
<circle cx="167.24" cy="179.82" r="1.15" fill="#111" />
<circle cx="167.57" cy="186.63" r="1.15" fill="#111" />
<circle cx="168.20" cy="172.63" r="1.15" fill="#111" />
<circle cx="167.98" cy="175.46" r="1.15" fill="#111" />
<circle cx="167.67" cy="175.86" r="1.15" fill="#111" />
<circle cx="168.79" cy="195.61" r="1.15" fill="#111" />
<circle cx="167.31" cy="193.76" r="1.15" fill="#111" />
<circle cx="167.43" cy="172.50" r="1.15" fill="#111" />
<circle cx="169.49" cy="168.93" r="1.15" fill="#111" />
<circle cx="168.99" cy="166.37" r="1.15" fill="#111" />
<circle cx="167.86" cy="162.09" r="1.15" fill="#111" />
<circle cx="168.33" cy="173.10" r="1.15" fill="#111" />
<circle cx="169.29" cy="178.92" r="1.15" fill="#111" />
<circle cx="167.62" cy="199.78" r="1.15" fill="#111" />
<circle cx="168.11" cy="189.51" r="1.15" fill="#111" />
<circle cx="167.95" cy="201.24" r="1.15" fill="#111" />
<circle cx="167.30" cy="163.05" r="1.15" fill="#111" />
<circle cx="167.92" cy="183.48" r="1.15" fill="#111" />
<circle cx="169.36" cy="198.92" r="1.15" fill="#111" />
<circle cx="167.45" cy="166.18" r="1.15" fill="#111" />
<circle cx="169.50" cy="189.10" r="1.15" fill="#111" />
<circle cx="167.42" cy="197.31" r="1.15" fill="#111" />
<circle cx="167.61" cy="171.60" r="1.15" fill="#111" />
<circle cx="167.17" cy="196.69" r="1.15" fill="#111" />
<circle cx="168.28" cy="177.85" r="1.15" fill="#111" />
<circle cx="169.66" cy="177.99" r="1.15" fill="#111" />
<circle cx="168.70" cy="164.80" r="1.15" fill="#111" />
<circle cx="169.70" cy="157.23" r="1.15" fill="#111" />
<circle cx="168.01" cy="206.35" r="1.15" fill="#111" />
<circle cx="170.05" cy="178.72" r="1.15" fill="#111" />
<circle cx="167.99" cy="168.10" r="1.15" fill="#111" />
<circle cx="168.07" cy="194.28" r="1.15" fill="#111" />
<circle cx="168.77" cy="182.95" r="1.15" fill="#111" />
<circle cx="167.54" cy="171.45" r="1.15" fill="#111" />
<circle cx="167.85" cy="160.40" r="1.15" fill="#111" />
<circle cx="167.59" cy="186.43" r="1.15" fill="#111" />
<circle cx="169.48" cy="159.25" r="1.15" fill="#111" />
<circle cx="168.10" cy="202.18" r="1.15" fill="#111" />
<circle cx="169.98" cy="201.83" r="1.15" fill="#111" />
<circle cx="167.20" cy="201.98" r="1.15" fill="#111" />
<circle cx="167.11" cy="194.26" r="1.15" fill="#111" />
<circle cx="167.64" cy="165.59" r="1.15" fill="#111" />
<circle cx="168.96" cy="183.25" r="1.15" fill="#111" />
<circle cx="168.79" cy="177.69" r="1.15" fill="#111" />
<circle cx="167.72" cy="174.07" r="1.15" fill="#111" />
<circle cx="168.03" cy="169.62" r="1.15" fill="#111" />
<circle cx="168.22" cy="196.12" r="1.15" fill="#111" />
<circle cx="167.56" cy="174.59" r="1.15" fill="#111" />
<circle cx="168.64" cy="197.84" r="1.15" fill="#111" />
<circle cx="167.82" cy="165.57" r="1.15" fill="#111" />
<circle cx="170.05" cy="197.30" r="1.15" fill="#111" />
<circle cx="168.97" cy="198.17" r="1.15" fill="#111" />
<circle cx="167.09" cy="200.13" r="1.15" fill="#111" />
<circle cx="167.15" cy="159.50" r="1.15" fill="#111" />
<circle cx="168.10" cy="183.36" r="1.15" fill="#111" />
<circle cx="167.80" cy="154.00" r="1.15" fill="#111" />
<circle cx="170.60" cy="160.60" r="1.15" fill="#111" />
<circle cx="174.10" cy="174.00" r="1.15" fill="#111" />
<circle cx="176.60" cy="178.90" r="1.15" fill="#111" />
<circle cx="179.70" cy="181.30" r="1.15" fill="#111" />
<circle cx="173.40" cy="182.40" r="1.15" fill="#111" />
<circle cx="180.50" cy="186.40" r="1.15" fill="#111" />
<circle cx="169.20" cy="210.40" r="1.15" fill="#111" />
<circle cx="216.60" cy="177.00" r="1.15" fill="#111" />
<circle cx="220.00" cy="179.00" r="1.15" fill="#111" />
<circle cx="221.00" cy="186.00" r="1.15" fill="#111" />
<line x1="169.80" y1="181.80" x2="221.80" y2="184.60" stroke="#c87070" stroke-width="0.8" />
<circle cx="238.30" cy="153.60" r="1.15" fill="#111" />
<circle cx="243.10" cy="159.00" r="1.15" fill="#111" />
<circle cx="252.90" cy="164.90" r="1.15" fill="#111" />
<circle cx="252.90" cy="172.10" r="1.15" fill="#111" />
<circle cx="249.30" cy="172.10" r="1.15" fill="#111" />
<circle cx="255.30" cy="175.70" r="1.15" fill="#111" />
<circle cx="238.00" cy="183.50" r="1.15" fill="#111" />
<circle cx="256.50" cy="188.20" r="1.15" fill="#111" />
<circle cx="261.90" cy="188.20" r="1.15" fill="#111" />
<circle cx="247.50" cy="195.40" r="1.15" fill="#111" />
<circle cx="255.90" cy="196.00" r="1.15" fill="#111" />
<circle cx="259.50" cy="199.00" r="1.15" fill="#111" />
<circle cx="292.40" cy="175.40" r="1.15" fill="#111" />
<circle cx="256.00" cy="182.30" r="1.15" fill="#111" />
<circle cx="258.00" cy="183.00" r="1.15" fill="#111" />
<circle cx="259.50" cy="183.50" r="1.15" fill="#111" />
<circle cx="250.50" cy="177.50" r="1.15" fill="#111" />
<circle cx="252.00" cy="178.50" r="1.15" fill="#111" />
<circle cx="254.00" cy="179.30" r="1.15" fill="#111" />
<circle cx="238.10" cy="157.20" r="1.15" fill="#111" />
<circle cx="238.13" cy="158.05" r="1.15" fill="#111" />
<circle cx="238.34" cy="158.90" r="1.15" fill="#111" />
<circle cx="237.80" cy="159.75" r="1.15" fill="#111" />
<circle cx="237.84" cy="160.60" r="1.15" fill="#111" />
<circle cx="237.89" cy="161.45" r="1.15" fill="#111" />
<circle cx="237.89" cy="162.30" r="1.15" fill="#111" />
<circle cx="237.85" cy="163.15" r="1.15" fill="#111" />
<circle cx="238.48" cy="164.00" r="1.15" fill="#111" />
<circle cx="238.40" cy="164.85" r="1.15" fill="#111" />
<circle cx="237.86" cy="165.70" r="1.15" fill="#111" />
<circle cx="238.15" cy="166.55" r="1.15" fill="#111" />
<circle cx="238.02" cy="167.40" r="1.15" fill="#111" />
<circle cx="238.02" cy="168.25" r="1.15" fill="#111" />
<circle cx="242.68" cy="178.20" r="1.15" fill="#111" />
<circle cx="244.61" cy="173.91" r="1.15" fill="#111" />
<circle cx="241.37" cy="173.43" r="1.15" fill="#111" />
<circle cx="240.81" cy="176.83" r="1.15" fill="#111" />
<circle cx="245.67" cy="174.20" r="1.15" fill="#111" />
<circle cx="240.46" cy="171.18" r="1.15" fill="#111" />
<circle cx="242.86" cy="177.57" r="1.15" fill="#111" />
<circle cx="246.22" cy="174.20" r="1.15" fill="#111" />
<circle cx="246.37" cy="177.84" r="1.15" fill="#111" />
<circle cx="243.34" cy="174.09" r="1.15" fill="#111" />
<circle cx="243.87" cy="179.04" r="1.15" fill="#111" />
<circle cx="243.25" cy="178.91" r="1.15" fill="#111" />
<circle cx="243.58" cy="172.18" r="1.15" fill="#111" />
<circle cx="244.19" cy="178.93" r="1.15" fill="#111" />
<circle cx="240.39" cy="174.87" r="1.15" fill="#111" />
<circle cx="243.29" cy="181.70" r="1.15" fill="#111" />
<circle cx="247.48" cy="174.11" r="1.15" fill="#111" />
<circle cx="247.16" cy="180.36" r="1.15" fill="#111" />
<circle cx="241.95" cy="175.46" r="1.15" fill="#111" />
<circle cx="240.81" cy="180.70" r="1.15" fill="#111" />
<circle cx="245.23" cy="181.81" r="1.15" fill="#111" />
<circle cx="246.30" cy="178.51" r="1.15" fill="#111" />
<circle cx="245.82" cy="176.96" r="1.15" fill="#111" />
<circle cx="240.65" cy="177.32" r="1.15" fill="#111" />
<circle cx="239.84" cy="170.65" r="1.15" fill="#111" />
<circle cx="246.15" cy="169.16" r="1.15" fill="#111" />
<circle cx="240.55" cy="169.99" r="1.15" fill="#111" />
<circle cx="247.02" cy="171.19" r="1.15" fill="#111" />
<circle cx="239.99" cy="181.12" r="1.15" fill="#111" />
<circle cx="240.79" cy="181.16" r="1.15" fill="#111" />
<circle cx="245.32" cy="181.04" r="1.15" fill="#111" />
<circle cx="247.61" cy="177.19" r="1.15" fill="#111" />
<circle cx="246.35" cy="169.04" r="1.15" fill="#111" />
<circle cx="246.09" cy="176.17" r="1.15" fill="#111" />
<circle cx="245.66" cy="170.10" r="1.15" fill="#111" />
<circle cx="245.94" cy="182.52" r="1.15" fill="#111" />
<circle cx="240.30" cy="173.36" r="1.15" fill="#111" />
<circle cx="244.42" cy="180.92" r="1.15" fill="#111" />
<circle cx="241.79" cy="171.20" r="1.15" fill="#111" />
<circle cx="241.85" cy="177.74" r="1.15" fill="#111" />
<circle cx="251.52" cy="187.93" r="1.15" fill="#111" />
<circle cx="249.20" cy="187.94" r="1.15" fill="#111" />
<circle cx="249.10" cy="188.06" r="1.15" fill="#111" />
<circle cx="247.50" cy="188.50" r="1.15" fill="#111" />
<circle cx="252.84" cy="188.03" r="1.15" fill="#111" />
<circle cx="251.48" cy="186.67" r="1.15" fill="#111" />
<circle cx="251.15" cy="189.88" r="1.15" fill="#111" />
<circle cx="251.04" cy="188.59" r="1.15" fill="#111" />
<circle cx="249.90" cy="189.27" r="1.15" fill="#111" />
<circle cx="252.38" cy="186.61" r="1.15" fill="#111" />
<circle cx="247.58" cy="189.84" r="1.15" fill="#111" />
<circle cx="252.50" cy="188.59" r="1.15" fill="#111" />
<circle cx="255.30" cy="191.20" r="1.15" fill="#111" />
<circle cx="257.70" cy="193.00" r="1.15" fill="#111" />
<circle cx="256.50" cy="192.00" r="1.15" fill="#111" />
<line x1="238.90" y1="171.00" x2="292.40" y2="210.60" stroke="#c87070" stroke-width="0.8" />
<text x="22.20" y="226.00" font-size="4.85" font-weight="bold" text-anchor="start" fill="#111" stroke="#111" stroke-width="0.06" stroke-linejoin="round" >Pearson’s correlation: 0.12</text>
<text x="22.20" y="231.50" font-size="4.85" font-weight="bold" text-anchor="start" fill="#111" stroke="#111" stroke-width="0.06" stroke-linejoin="round" >Distance correlation: 0.33</text>
<text x="93.60" y="226.00" font-size="4.85" font-weight="bold" text-anchor="start" fill="#111" stroke="#111" stroke-width="0.06" stroke-linejoin="round" >Pearson’s correlation: 0.57</text>
<text x="93.60" y="231.50" font-size="4.85" font-weight="bold" text-anchor="start" fill="#111" stroke="#111" stroke-width="0.06" stroke-linejoin="round" >Distance correlation: 0.70</text>
<text x="165.00" y="226.00" font-size="4.85" font-weight="bold" text-anchor="start" fill="#111" stroke="#111" stroke-width="0.06" stroke-linejoin="round" >Pearson’s correlation: -0.03</text>
<text x="165.00" y="231.50" font-size="4.85" font-weight="bold" text-anchor="start" fill="#111" stroke="#111" stroke-width="0.06" stroke-linejoin="round" >Distance correlation: 0.29</text>
<text x="235.20" y="226.00" font-size="4.85" font-weight="bold" text-anchor="start" fill="#111" stroke="#111" stroke-width="0.06" stroke-linejoin="round" >Pearson’s correlation: -0.58</text>
<text x="235.20" y="231.50" font-size="4.85" font-weight="bold" text-anchor="start" fill="#111" stroke="#111" stroke-width="0.06" stroke-linejoin="round" >Distance correlation: 0.70</text>
<rect x="428.60" y="22.40" width="82.40" height="12.80" fill="#fff" stroke="#666" stroke-width="0.9" />
<line x1="469.60" y1="22.40" x2="469.60" y2="35.20" stroke="#bbb" stroke-width="0.8" />
<text x="449.10" y="31.80" font-size="8.8" font-weight="bold" text-anchor="middle" fill="#111" stroke="#111" stroke-width="0.26" stroke-linejoin="round" letter-spacing="0.3">CNV</text>
<text x="490.30" y="31.80" font-size="8.8" font-weight="bold" text-anchor="middle" fill="#111" stroke="#111" stroke-width="0.26" stroke-linejoin="round" letter-spacing="0.3">Mut.</text>
<rect x="428.60" y="38.60" width="41.50" height="13.35" fill="#fdfdfd" stroke="none" stroke-width="1" />
<rect x="469.60" y="38.60" width="41.40" height="13.35" fill="#ffffff" stroke="none" stroke-width="1" />
<text x="449.50" y="48.98" font-size="8.7" font-weight="bold" text-anchor="middle" fill="#111" stroke="#111" stroke-width="0.26" stroke-linejoin="round" >-0.02</text>
<text x="490.70" y="48.98" font-size="8.7" font-weight="bold" text-anchor="middle" fill="#111" stroke="#111" stroke-width="0.26" stroke-linejoin="round" >0.01</text>
<text x="421.20" y="48.77" font-size="8.45" font-weight="bold" text-anchor="end" fill="#1a1a1a" stroke="#1a1a1a" stroke-width="0.25" stroke-linejoin="round" xml:space="preserve">Age</text>
<rect x="428.60" y="51.35" width="41.50" height="13.35" fill="#fbeaea" stroke="none" stroke-width="1" />
<rect x="469.60" y="51.35" width="41.40" height="13.35" fill="#fbeaea" stroke="none" stroke-width="1" />
<text x="449.50" y="61.73" font-size="8.7" font-weight="bold" text-anchor="middle" fill="#111" stroke="#111" stroke-width="0.26" stroke-linejoin="round" >0.08</text>
<text x="490.70" y="61.73" font-size="8.7" font-weight="bold" text-anchor="middle" fill="#111" stroke="#111" stroke-width="0.26" stroke-linejoin="round" >0.09</text>
<text x="423.00" y="61.52" font-size="8.45" font-weight="bold" text-anchor="end" fill="#1a1a1a" stroke="#1a1a1a" stroke-width="0.25" stroke-linejoin="round" xml:space="preserve">Size</text>
<rect x="428.60" y="64.10" width="41.50" height="13.35" fill="#fdfdfd" stroke="none" stroke-width="1" />
<rect x="469.60" y="64.10" width="41.40" height="13.35" fill="#d6daec" stroke="none" stroke-width="1" />
<text x="449.50" y="74.47" font-size="8.7" font-weight="bold" text-anchor="middle" fill="#111" stroke="#111" stroke-width="0.26" stroke-linejoin="round" >-0.02</text>
<text x="490.70" y="74.47" font-size="8.7" font-weight="bold" text-anchor="middle" fill="#111" stroke="#111" stroke-width="0.26" stroke-linejoin="round" >-0.18</text>
<text x="423.50" y="74.27" font-size="8.45" font-weight="bold" text-anchor="end" fill="#1a1a1a" stroke="#1a1a1a" stroke-width="0.25" stroke-linejoin="round" xml:space="preserve">Smoking</text>
<rect x="428.60" y="76.85" width="41.50" height="12.75" fill="#fbeaea" stroke="none" stroke-width="1" />
<rect x="469.60" y="76.85" width="41.40" height="12.75" fill="#fbe6e6" stroke="none" stroke-width="1" />
<text x="449.50" y="87.22" font-size="8.7" font-weight="bold" text-anchor="middle" fill="#111" stroke="#111" stroke-width="0.26" stroke-linejoin="round" >0.09</text>
<text x="490.70" y="87.22" font-size="8.7" font-weight="bold" text-anchor="middle" fill="#111" stroke="#111" stroke-width="0.26" stroke-linejoin="round" >0.11</text>
<text x="420.90" y="87.02" font-size="8.45" font-weight="bold" text-anchor="end" fill="#1a1a1a" stroke="#1a1a1a" stroke-width="0.25" stroke-linejoin="round" xml:space="preserve">Stage</text>
<rect x="428.60" y="38.60" width="82.40" height="51.00" fill="none" stroke="#6a6a6a" stroke-width="0.9" />
<rect x="428.60" y="92.90" width="41.50" height="13.35" fill="#8290b0" stroke="none" stroke-width="1" />
<rect x="469.60" y="92.90" width="41.40" height="13.35" fill="#f4f5fa" stroke="none" stroke-width="1" />
<text x="449.50" y="103.28" font-size="8.7" font-weight="bold" text-anchor="middle" fill="#111" stroke="#111" stroke-width="0.26" stroke-linejoin="round" >-0.58</text>
<text x="490.70" y="103.28" font-size="8.7" font-weight="bold" text-anchor="middle" fill="#111" stroke="#111" stroke-width="0.26" stroke-linejoin="round" >-0.07</text>
<text x="423.50" y="103.08" font-size="8.45" font-weight="bold" text-anchor="end" fill="#1a1a1a" stroke="#1a1a1a" stroke-width="0.25" stroke-linejoin="round" xml:space="preserve">Stromal cell infiltration</text>
<rect x="428.60" y="105.65" width="41.50" height="13.35" fill="#7a88a8" stroke="none" stroke-width="1" />
<rect x="469.60" y="105.65" width="41.40" height="13.35" fill="#fbfbfd" stroke="none" stroke-width="1" />
<text x="449.50" y="116.03" font-size="8.7" font-weight="bold" text-anchor="middle" fill="#111" stroke="#111" stroke-width="0.26" stroke-linejoin="round" >-0.64</text>
<text x="490.70" y="116.03" font-size="8.7" font-weight="bold" text-anchor="middle" fill="#111" stroke="#111" stroke-width="0.26" stroke-linejoin="round" >-0.03</text>
<text x="423.50" y="115.83" font-size="8.45" font-weight="bold" text-anchor="end" fill="#1a1a1a" stroke="#1a1a1a" stroke-width="0.25" stroke-linejoin="round" xml:space="preserve">Immune cell infiltration</text>
<rect x="428.60" y="118.40" width="41.50" height="12.75" fill="#9c9cc8" stroke="none" stroke-width="1" />
<rect x="469.60" y="118.40" width="41.40" height="12.75" fill="#fceeee" stroke="none" stroke-width="1" />
<text x="449.50" y="128.78" font-size="8.7" font-weight="bold" text-anchor="middle" fill="#111" stroke="#111" stroke-width="0.26" stroke-linejoin="round" >-0.51</text>
<text x="490.70" y="128.78" font-size="8.7" font-weight="bold" text-anchor="middle" fill="#111" stroke="#111" stroke-width="0.26" stroke-linejoin="round" >0.08</text>
<text x="423.50" y="128.58" font-size="8.45" font-weight="bold" text-anchor="end" fill="#1a1a1a" stroke="#1a1a1a" stroke-width="0.25" stroke-linejoin="round" xml:space="preserve">CYT activity</text>
<rect x="428.60" y="92.90" width="82.40" height="38.25" fill="none" stroke="#6a6a6a" stroke-width="0.9" />
<rect x="428.60" y="134.80" width="41.50" height="13.35" fill="#c8d4e6" stroke="none" stroke-width="1" />
<rect x="469.60" y="134.80" width="41.40" height="13.35" fill="#f3f5fa" stroke="none" stroke-width="1" />
<text x="449.50" y="145.18" font-size="8.7" font-weight="bold" text-anchor="middle" fill="#111" stroke="#111" stroke-width="0.26" stroke-linejoin="round" >-0.20</text>
<text x="490.70" y="145.18" font-size="8.7" font-weight="bold" text-anchor="middle" fill="#111" stroke="#111" stroke-width="0.26" stroke-linejoin="round" >-0.06</text>
<text x="423.50" y="144.98" font-size="8.45" font-weight="bold" text-anchor="end" fill="#1a1a1a" stroke="#1a1a1a" stroke-width="0.25" stroke-linejoin="round" xml:space="preserve">B-cell infiltration</text>
<rect x="428.60" y="147.55" width="41.50" height="13.35" fill="#8e9cba" stroke="none" stroke-width="1" />
<rect x="469.60" y="147.55" width="41.40" height="13.35" fill="#dfe2ef" stroke="none" stroke-width="1" />
<text x="449.50" y="157.93" font-size="8.7" font-weight="bold" text-anchor="middle" fill="#111" stroke="#111" stroke-width="0.26" stroke-linejoin="round" >-0.42</text>
<text x="490.70" y="157.93" font-size="8.7" font-weight="bold" text-anchor="middle" fill="#111" stroke="#111" stroke-width="0.26" stroke-linejoin="round" >-0.15</text>
<text x="423.50" y="157.73" font-size="8.45" font-weight="bold" text-anchor="end" fill="#1a1a1a" stroke="#1a1a1a" stroke-width="0.25" stroke-linejoin="round" xml:space="preserve">CD4  T-cell infiltration</text>
<rect x="428.60" y="160.30" width="41.50" height="13.35" fill="#adb2d6" stroke="none" stroke-width="1" />
<rect x="469.60" y="160.30" width="41.40" height="13.35" fill="#fdf8f4" stroke="none" stroke-width="1" />
<text x="449.50" y="170.68" font-size="8.7" font-weight="bold" text-anchor="middle" fill="#111" stroke="#111" stroke-width="0.26" stroke-linejoin="round" >-0.31</text>
<text x="490.70" y="170.68" font-size="8.7" font-weight="bold" text-anchor="middle" fill="#111" stroke="#111" stroke-width="0.26" stroke-linejoin="round" >0.06</text>
<text x="423.50" y="170.48" font-size="8.45" font-weight="bold" text-anchor="end" fill="#1a1a1a" stroke="#1a1a1a" stroke-width="0.25" stroke-linejoin="round" xml:space="preserve">CD8 T-cell infiltration</text>
<rect x="428.60" y="173.05" width="41.50" height="13.35" fill="#a9b1d6" stroke="none" stroke-width="1" />
<rect x="469.60" y="173.05" width="41.40" height="13.35" fill="#eff1f8" stroke="none" stroke-width="1" />
<text x="449.50" y="183.43" font-size="8.7" font-weight="bold" text-anchor="middle" fill="#111" stroke="#111" stroke-width="0.26" stroke-linejoin="round" >-0.36</text>
<text x="490.70" y="183.43" font-size="8.7" font-weight="bold" text-anchor="middle" fill="#111" stroke="#111" stroke-width="0.26" stroke-linejoin="round" >-0.07</text>
<text x="423.50" y="183.23" font-size="8.45" font-weight="bold" text-anchor="end" fill="#1a1a1a" stroke="#1a1a1a" stroke-width="0.25" stroke-linejoin="round" xml:space="preserve">Neutrophil infiltration</text>
<rect x="428.60" y="185.80" width="41.50" height="13.35" fill="#9ea8cc" stroke="none" stroke-width="1" />
<rect x="469.60" y="185.80" width="41.40" height="13.35" fill="#dde1ef" stroke="none" stroke-width="1" />
<text x="449.50" y="196.18" font-size="8.7" font-weight="bold" text-anchor="middle" fill="#111" stroke="#111" stroke-width="0.26" stroke-linejoin="round" >-0.39</text>
<text x="490.70" y="196.18" font-size="8.7" font-weight="bold" text-anchor="middle" fill="#111" stroke="#111" stroke-width="0.26" stroke-linejoin="round" >-0.15</text>
<text x="423.50" y="195.98" font-size="8.45" font-weight="bold" text-anchor="end" fill="#1a1a1a" stroke="#1a1a1a" stroke-width="0.25" stroke-linejoin="round" xml:space="preserve">Macrophage infiltration</text>
<rect x="428.60" y="198.55" width="41.50" height="12.75" fill="#9aa4c8" stroke="none" stroke-width="1" />
<rect x="469.60" y="198.55" width="41.40" height="12.75" fill="#fdf8f4" stroke="none" stroke-width="1" />
<text x="449.50" y="208.93" font-size="8.7" font-weight="bold" text-anchor="middle" fill="#111" stroke="#111" stroke-width="0.26" stroke-linejoin="round" >-0.41</text>
<text x="490.70" y="208.93" font-size="8.7" font-weight="bold" text-anchor="middle" fill="#111" stroke="#111" stroke-width="0.26" stroke-linejoin="round" >0.06</text>
<text x="423.50" y="208.73" font-size="8.45" font-weight="bold" text-anchor="end" fill="#1a1a1a" stroke="#1a1a1a" stroke-width="0.25" stroke-linejoin="round" xml:space="preserve">Dendritic cell infiltration</text>
<rect x="428.60" y="134.80" width="82.40" height="76.50" fill="none" stroke="#6a6a6a" stroke-width="0.9" />
<defs><linearGradient id="gC" x1="0" x2="1" y1="0" y2="0"><stop offset="0" stop-color="#1c2a66"/><stop offset="0.25" stop-color="#6f80b8"/><stop offset="0.5" stop-color="#ffffff"/><stop offset="0.75" stop-color="#ec8e8e"/><stop offset="1" stop-color="#c8222c"/></linearGradient><linearGradient id="gD" x1="0" x2="0" y1="0" y2="1"><stop offset="0" stop-color="#a0183a"/><stop offset="0.15" stop-color="#d8282a"/><stop offset="0.3" stop-color="#f07020"/><stop offset="0.42" stop-color="#f8c030"/><stop offset="0.5" stop-color="#fff8a0"/><stop offset="0.56" stop-color="#ffffff"/><stop offset="0.63" stop-color="#90d0f0"/><stop offset="0.73" stop-color="#4898d8"/><stop offset="0.86" stop-color="#3050b0"/><stop offset="1" stop-color="#282868"/></linearGradient><linearGradient id="gF" x1="0" x2="0" y1="0" y2="1"><stop offset="0" stop-color="#c0262a"/><stop offset="0.15" stop-color="#e8392a"/><stop offset="0.3" stop-color="#f5921e"/><stop offset="0.42" stop-color="#fde52c"/><stop offset="0.55" stop-color="#fffde8"/><stop offset="0.62" stop-color="#7fd3f0"/><stop offset="0.8" stop-color="#3a66c0"/><stop offset="1" stop-color="#243288"/></linearGradient></defs>
<rect x="473.80" y="214.00" width="37.50" height="6.20" fill="url(#gC)" stroke="#999" stroke-width="0.3" />
<text x="474.00" y="223.20" font-size="2.6" font-weight="bold" text-anchor="middle" fill="#444" stroke="#444" stroke-width="0.14" stroke-linejoin="round" >-1</text>
<text x="492.70" y="223.20" font-size="2.6" font-weight="bold" text-anchor="middle" fill="#444" stroke="#444" stroke-width="0.14" stroke-linejoin="round" >0</text>
<text x="511.20" y="223.20" font-size="2.6" font-weight="bold" text-anchor="middle" fill="#444" stroke="#444" stroke-width="0.14" stroke-linejoin="round" >1</text>
<text x="492.50" y="228.00" font-size="3.0" font-weight="bold" text-anchor="middle" fill="#444" stroke="#444" stroke-width="0.14" stroke-linejoin="round" >Correlation</text>
<rect x="34.60" y="296.00" width="141.90" height="132.20" fill="#ececec" stroke="none" stroke-width="1" />
<line x1="41.40" y1="296.00" x2="41.40" y2="428.20" stroke="#ffffff" stroke-width="1.0" stroke-opacity="0.8"/>
<line x1="54.35" y1="296.00" x2="54.35" y2="428.20" stroke="#ffffff" stroke-width="1.0" stroke-opacity="0.8"/>
<line x1="67.30" y1="296.00" x2="67.30" y2="428.20" stroke="#ffffff" stroke-width="1.0" stroke-opacity="0.8"/>
<line x1="80.25" y1="296.00" x2="80.25" y2="428.20" stroke="#ffffff" stroke-width="1.0" stroke-opacity="0.8"/>
<line x1="93.20" y1="296.00" x2="93.20" y2="428.20" stroke="#ffffff" stroke-width="1.0" stroke-opacity="0.8"/>
<line x1="106.15" y1="296.00" x2="106.15" y2="428.20" stroke="#ffffff" stroke-width="1.0" stroke-opacity="0.8"/>
<line x1="119.10" y1="296.00" x2="119.10" y2="428.20" stroke="#ffffff" stroke-width="1.0" stroke-opacity="0.8"/>
<line x1="132.05" y1="296.00" x2="132.05" y2="428.20" stroke="#ffffff" stroke-width="1.0" stroke-opacity="0.8"/>
<line x1="145.00" y1="296.00" x2="145.00" y2="428.20" stroke="#ffffff" stroke-width="1.0" stroke-opacity="0.8"/>
<line x1="157.95" y1="296.00" x2="157.95" y2="428.20" stroke="#ffffff" stroke-width="1.0" stroke-opacity="0.8"/>
<line x1="170.90" y1="296.00" x2="170.90" y2="428.20" stroke="#ffffff" stroke-width="1.0" stroke-opacity="0.8"/>
<line x1="34.60" y1="302.10" x2="176.50" y2="302.10" stroke="#ffffff" stroke-width="1.0" stroke-opacity="0.8"/>
<line x1="34.60" y1="314.20" x2="176.50" y2="314.20" stroke="#ffffff" stroke-width="1.0" stroke-opacity="0.8"/>
<line x1="34.60" y1="326.30" x2="176.50" y2="326.30" stroke="#ffffff" stroke-width="1.0" stroke-opacity="0.8"/>
<line x1="34.60" y1="338.40" x2="176.50" y2="338.40" stroke="#ffffff" stroke-width="1.0" stroke-opacity="0.8"/>
<line x1="34.60" y1="350.50" x2="176.50" y2="350.50" stroke="#ffffff" stroke-width="1.0" stroke-opacity="0.8"/>
<line x1="34.60" y1="362.60" x2="176.50" y2="362.60" stroke="#ffffff" stroke-width="1.0" stroke-opacity="0.8"/>
<line x1="34.60" y1="374.70" x2="176.50" y2="374.70" stroke="#ffffff" stroke-width="1.0" stroke-opacity="0.8"/>
<line x1="34.60" y1="386.80" x2="176.50" y2="386.80" stroke="#ffffff" stroke-width="1.0" stroke-opacity="0.8"/>
<line x1="34.60" y1="398.90" x2="176.50" y2="398.90" stroke="#ffffff" stroke-width="1.0" stroke-opacity="0.8"/>
<line x1="34.60" y1="411.00" x2="176.50" y2="411.00" stroke="#ffffff" stroke-width="1.0" stroke-opacity="0.8"/>
<line x1="34.60" y1="423.10" x2="176.50" y2="423.10" stroke="#ffffff" stroke-width="1.0" stroke-opacity="0.8"/>
<text x="104.10" y="286.30" font-size="8.0" font-weight="bold" text-anchor="middle" fill="#111" stroke="#111" stroke-width="0.24" stroke-linejoin="round" >Cell-cycle score via SCNV</text>
<rect x="7.00" y="296.00" width="16.60" height="130.80" fill="#ececec" stroke="none" stroke-width="1" />
<line x1="11.20" y1="296.00" x2="11.20" y2="426.80" stroke="#ffffff" stroke-width="0.8" stroke-opacity="0.3"/>
<line x1="15.40" y1="296.00" x2="15.40" y2="426.80" stroke="#ffffff" stroke-width="0.8" stroke-opacity="0.3"/>
<line x1="19.60" y1="296.00" x2="19.60" y2="426.80" stroke="#ffffff" stroke-width="0.8" stroke-opacity="0.3"/>
<line x1="7.00" y1="302.10" x2="23.60" y2="302.10" stroke="#ffffff" stroke-width="0.8" stroke-opacity="0.3"/>
<line x1="7.00" y1="314.20" x2="23.60" y2="314.20" stroke="#ffffff" stroke-width="0.8" stroke-opacity="0.3"/>
<line x1="7.00" y1="326.30" x2="23.60" y2="326.30" stroke="#ffffff" stroke-width="0.8" stroke-opacity="0.3"/>
<line x1="7.00" y1="338.40" x2="23.60" y2="338.40" stroke="#ffffff" stroke-width="0.8" stroke-opacity="0.3"/>
<line x1="7.00" y1="350.50" x2="23.60" y2="350.50" stroke="#ffffff" stroke-width="0.8" stroke-opacity="0.3"/>
<line x1="7.00" y1="362.60" x2="23.60" y2="362.60" stroke="#ffffff" stroke-width="0.8" stroke-opacity="0.3"/>
<line x1="7.00" y1="374.70" x2="23.60" y2="374.70" stroke="#ffffff" stroke-width="0.8" stroke-opacity="0.3"/>
<line x1="7.00" y1="386.80" x2="23.60" y2="386.80" stroke="#ffffff" stroke-width="0.8" stroke-opacity="0.3"/>
<line x1="7.00" y1="398.90" x2="23.60" y2="398.90" stroke="#ffffff" stroke-width="0.8" stroke-opacity="0.3"/>
<line x1="7.00" y1="411.00" x2="23.60" y2="411.00" stroke="#ffffff" stroke-width="0.8" stroke-opacity="0.3"/>
<line x1="7.00" y1="423.10" x2="23.60" y2="423.10" stroke="#ffffff" stroke-width="0.8" stroke-opacity="0.3"/>
<rect x="34.60" y="438.60" width="141.60" height="18.10" fill="#ececec" stroke="none" stroke-width="1" />
<line x1="41.40" y1="438.60" x2="41.40" y2="456.70" stroke="#ffffff" stroke-width="0.8" stroke-opacity="0.35"/>
<line x1="54.35" y1="438.60" x2="54.35" y2="456.70" stroke="#ffffff" stroke-width="0.8" stroke-opacity="0.35"/>
<line x1="67.30" y1="438.60" x2="67.30" y2="456.70" stroke="#ffffff" stroke-width="0.8" stroke-opacity="0.35"/>
<line x1="80.25" y1="438.60" x2="80.25" y2="456.70" stroke="#ffffff" stroke-width="0.8" stroke-opacity="0.35"/>
<line x1="93.20" y1="438.60" x2="93.20" y2="456.70" stroke="#ffffff" stroke-width="0.8" stroke-opacity="0.35"/>
<line x1="106.15" y1="438.60" x2="106.15" y2="456.70" stroke="#ffffff" stroke-width="0.8" stroke-opacity="0.35"/>
<line x1="119.10" y1="438.60" x2="119.10" y2="456.70" stroke="#ffffff" stroke-width="0.8" stroke-opacity="0.35"/>
<line x1="132.05" y1="438.60" x2="132.05" y2="456.70" stroke="#ffffff" stroke-width="0.8" stroke-opacity="0.35"/>
<line x1="145.00" y1="438.60" x2="145.00" y2="456.70" stroke="#ffffff" stroke-width="0.8" stroke-opacity="0.35"/>
<line x1="157.95" y1="438.60" x2="157.95" y2="456.70" stroke="#ffffff" stroke-width="0.8" stroke-opacity="0.35"/>
<line x1="170.90" y1="438.60" x2="170.90" y2="456.70" stroke="#ffffff" stroke-width="0.8" stroke-opacity="0.35"/>
<line x1="34.60" y1="443.10" x2="176.20" y2="443.10" stroke="#ffffff" stroke-width="0.8" stroke-opacity="0.35"/>
<line x1="34.60" y1="447.60" x2="176.20" y2="447.60" stroke="#ffffff" stroke-width="0.8" stroke-opacity="0.35"/>
<line x1="34.60" y1="452.10" x2="176.20" y2="452.10" stroke="#ffffff" stroke-width="0.8" stroke-opacity="0.35"/>
<path d="M23.6,350 C21,358 16.5,368 15.5,380 C14.5,392 14,400 16,406 C19,412 22,414 23.6,416 Z" fill="#f6b0b0" fill-opacity="0.5"/><path d="M23.6,366 C22,378 19,388 16,394 C12,400 9.5,404 10.2,408 C11,412 17,416 23.6,419 Z" fill="#7fd0d8" fill-opacity="0.7"/>
<path d="M35,439 C42,444 50,451 58,453 C64,454 70,450 76,446 C90,443 120,441 160,439 Z" fill="#f6b0b0" fill-opacity="0.4"/><path d="M39,439 C44,441 48,445 52,448 C56,451 61,451.5 64,449 C67,446 72,444.5 80,443.5 C90,442.5 100,442 120,440.5 L140,439 Z" fill="#7fd0d8" fill-opacity="0.62"/>
<line x1="7.00" y1="382.30" x2="23.60" y2="382.30" stroke="#e0474c" stroke-width="1.4" />
<line x1="7.00" y1="392.30" x2="23.60" y2="392.30" stroke="#1f2d5c" stroke-width="1.4" />
<line x1="66.80" y1="438.60" x2="66.80" y2="456.70" stroke="#1f2d5c" stroke-width="1.4" />
<line x1="92.70" y1="438.60" x2="92.70" y2="456.70" stroke="#d04048" stroke-width="1.4" />
<text x="7.80" y="294.00" font-size="4.3" font-weight="bold" text-anchor="start" fill="#222" stroke="#222" stroke-width="0.14" stroke-linejoin="round" >Density</text>
<text x="0" y="0" font-size="5.25" font-weight="bold" fill="#111" text-anchor="middle" transform="translate(31.70,367.2) rotate(-90)">Arm level SCNV</text>
<text x="105.60" y="437.20" font-size="5.05" font-weight="bold" text-anchor="middle" fill="#111" stroke="#111" stroke-width="0.15" stroke-linejoin="round" >Focal level SCNV</text>
<text x="0" y="0" font-size="4.3" font-weight="bold" fill="#222" text-anchor="middle" transform="translate(179.60,448.6) rotate(90)">Density</text>
<text x="6.80" y="434.00" font-size="4.4" font-weight="bold" text-anchor="middle" fill="#444" stroke="#444" stroke-width="0.14" stroke-linejoin="round" >1</text>
<text x="23.40" y="434.00" font-size="4.4" font-weight="bold" text-anchor="middle" fill="#444" stroke="#444" stroke-width="0.14" stroke-linejoin="round" >0</text>
<text x="30.70" y="440.70" font-size="4.4" font-weight="bold" text-anchor="middle" fill="#444" stroke="#444" stroke-width="0.14" stroke-linejoin="round" >0</text>
<text x="30.60" y="457.60" font-size="4.4" font-weight="bold" text-anchor="middle" fill="#444" stroke="#444" stroke-width="0.14" stroke-linejoin="round" >1</text>
<line x1="33.40" y1="314.20" x2="34.60" y2="314.20" stroke="#999" stroke-width="0.4" />
<text x="32.80" y="315.00" font-size="2.2" font-weight="normal" text-anchor="end" fill="#999" >-</text>
<line x1="33.40" y1="338.40" x2="34.60" y2="338.40" stroke="#999" stroke-width="0.4" />
<text x="32.80" y="339.20" font-size="2.2" font-weight="normal" text-anchor="end" fill="#999" >-</text>
<line x1="33.40" y1="362.60" x2="34.60" y2="362.60" stroke="#999" stroke-width="0.4" />
<text x="32.80" y="363.40" font-size="2.2" font-weight="normal" text-anchor="end" fill="#999" >-</text>
<line x1="33.40" y1="386.80" x2="34.60" y2="386.80" stroke="#999" stroke-width="0.4" />
<text x="32.80" y="387.60" font-size="2.2" font-weight="normal" text-anchor="end" fill="#999" >-</text>
<line x1="33.40" y1="411.00" x2="34.60" y2="411.00" stroke="#999" stroke-width="0.4" />
<text x="32.80" y="411.80" font-size="2.2" font-weight="normal" text-anchor="end" fill="#999" >-</text>
<line x1="54.35" y1="428.20" x2="54.35" y2="429.40" stroke="#999" stroke-width="0.4" />
<line x1="80.25" y1="428.20" x2="80.25" y2="429.40" stroke="#999" stroke-width="0.4" />
<line x1="106.15" y1="428.20" x2="106.15" y2="429.40" stroke="#999" stroke-width="0.4" />
<line x1="132.05" y1="428.20" x2="132.05" y2="429.40" stroke="#999" stroke-width="0.4" />
<line x1="157.95" y1="428.20" x2="157.95" y2="429.40" stroke="#999" stroke-width="0.4" />
<circle cx="66.20" cy="307.70" r="2.9" fill="#ffffff" opacity="0.55"/>
<circle cx="161.00" cy="364.40" r="2.9" fill="#ffffff" opacity="0.55"/>
<circle cx="51.30" cy="363.90" r="2.9" fill="#ffffff" opacity="0.55"/>
<circle cx="80.00" cy="362.00" r="2.9" fill="#ffffff" opacity="0.55"/>
<circle cx="85.00" cy="368.00" r="2.9" fill="#ffffff" opacity="0.55"/>
<circle cx="77.00" cy="392.00" r="2.9" fill="#ffffff" opacity="0.55"/>
<circle cx="100.00" cy="370.00" r="2.9" fill="#ffffff" opacity="0.55"/>
<circle cx="118.00" cy="379.00" r="2.9" fill="#ffffff" opacity="0.55"/>
<circle cx="110.00" cy="395.00" r="2.9" fill="#ffffff" opacity="0.55"/>
<circle cx="95.00" cy="400.00" r="2.9" fill="#ffffff" opacity="0.55"/>
<circle cx="128.00" cy="366.00" r="2.9" fill="#ffffff" opacity="0.55"/>
<circle cx="140.00" cy="380.00" r="2.9" fill="#ffffff" opacity="0.55"/>
<circle cx="84.10" cy="360.40" r="2.9" fill="#ffffff" opacity="0.55"/>
<circle cx="57.40" cy="373.40" r="2.9" fill="#ffffff" opacity="0.55"/>
<circle cx="67.20" cy="378.00" r="2.9" fill="#ffffff" opacity="0.55"/>
<circle cx="67.20" cy="381.90" r="2.9" fill="#ffffff" opacity="0.55"/>
<circle cx="75.70" cy="380.20" r="2.9" fill="#ffffff" opacity="0.55"/>
<circle cx="84.80" cy="381.20" r="2.9" fill="#ffffff" opacity="0.55"/>
<circle cx="88.40" cy="383.60" r="2.9" fill="#ffffff" opacity="0.55"/>
<circle cx="90.00" cy="388.40" r="2.9" fill="#ffffff" opacity="0.55"/>
<circle cx="90.30" cy="393.00" r="2.9" fill="#ffffff" opacity="0.55"/>
<circle cx="64.60" cy="387.80" r="2.9" fill="#ffffff" opacity="0.55"/>
<circle cx="63.30" cy="392.30" r="2.9" fill="#ffffff" opacity="0.55"/>
<circle cx="69.20" cy="390.40" r="2.9" fill="#ffffff" opacity="0.55"/>
<circle cx="69.80" cy="393.00" r="2.9" fill="#ffffff" opacity="0.55"/>
<circle cx="71.80" cy="393.00" r="2.9" fill="#ffffff" opacity="0.55"/>
<circle cx="68.50" cy="398.20" r="2.9" fill="#ffffff" opacity="0.55"/>
<circle cx="71.80" cy="398.00" r="2.9" fill="#ffffff" opacity="0.55"/>
<circle cx="75.00" cy="401.40" r="2.9" fill="#ffffff" opacity="0.55"/>
<circle cx="52.20" cy="397.10" r="2.9" fill="#ffffff" opacity="0.55"/>
<circle cx="103.20" cy="358.50" r="2.9" fill="#ffffff" opacity="0.55"/>
<circle cx="104.50" cy="363.70" r="2.9" fill="#ffffff" opacity="0.55"/>
<circle cx="96.90" cy="372.80" r="2.9" fill="#ffffff" opacity="0.55"/>
<circle cx="114.90" cy="375.80" r="2.9" fill="#ffffff" opacity="0.55"/>
<circle cx="125.30" cy="370.60" r="2.9" fill="#ffffff" opacity="0.55"/>
<circle cx="124.90" cy="374.70" r="2.9" fill="#ffffff" opacity="0.55"/>
<circle cx="134.00" cy="361.50" r="2.9" fill="#ffffff" opacity="0.55"/>
<circle cx="138.00" cy="366.70" r="2.9" fill="#ffffff" opacity="0.55"/>
<circle cx="85.00" cy="381.20" r="2.9" fill="#ffffff" opacity="0.55"/>
<circle cx="88.50" cy="383.90" r="2.9" fill="#ffffff" opacity="0.55"/>
<circle cx="90.20" cy="388.40" r="2.9" fill="#ffffff" opacity="0.55"/>
<circle cx="90.40" cy="393.60" r="2.9" fill="#ffffff" opacity="0.55"/>
<circle cx="104.70" cy="384.90" r="2.9" fill="#ffffff" opacity="0.55"/>
<circle cx="103.20" cy="391.00" r="2.9" fill="#ffffff" opacity="0.55"/>
<circle cx="107.30" cy="389.00" r="2.9" fill="#ffffff" opacity="0.55"/>
<circle cx="130.80" cy="383.20" r="2.9" fill="#ffffff" opacity="0.55"/>
<circle cx="129.50" cy="389.00" r="2.9" fill="#ffffff" opacity="0.55"/>
<circle cx="50.50" cy="406.50" r="2.9" fill="#ffffff" opacity="0.55"/>
<circle cx="53.00" cy="406.50" r="2.9" fill="#ffffff" opacity="0.55"/>
<circle cx="55.50" cy="406.80" r="2.9" fill="#ffffff" opacity="0.55"/>
<circle cx="51.50" cy="405.20" r="2.9" fill="#ffffff" opacity="0.55"/>
<circle cx="54.50" cy="405.20" r="2.9" fill="#ffffff" opacity="0.55"/>
<circle cx="50.20" cy="407.60" r="2.9" fill="#ffffff" opacity="0.55"/>
<circle cx="52.50" cy="407.70" r="2.9" fill="#ffffff" opacity="0.55"/>
<circle cx="55.00" cy="407.60" r="2.9" fill="#ffffff" opacity="0.55"/>
<circle cx="57.00" cy="406.60" r="2.9" fill="#ffffff" opacity="0.55"/>
<circle cx="58.50" cy="405.10" r="2.9" fill="#ffffff" opacity="0.55"/>
<circle cx="57.00" cy="400.80" r="2.9" fill="#ffffff" opacity="0.55"/>
<circle cx="66.20" cy="307.70" r="2.05" fill="#fdfdf8" />
<circle cx="161.00" cy="364.40" r="2.05" fill="#fdf9e4" />
<circle cx="51.30" cy="363.90" r="2.05" fill="#fdfdfa" />
<circle cx="80.00" cy="362.00" r="2.05" fill="#fbf7e2" />
<circle cx="85.00" cy="368.00" r="2.05" fill="#fbf7e2" />
<circle cx="77.00" cy="392.00" r="2.05" fill="#fbf7e2" />
<circle cx="100.00" cy="370.00" r="2.05" fill="#fbf7e2" />
<circle cx="118.00" cy="379.00" r="2.05" fill="#fbf7e2" />
<circle cx="110.00" cy="395.00" r="2.05" fill="#fbf7e2" />
<circle cx="95.00" cy="400.00" r="2.05" fill="#fbf7e2" />
<circle cx="128.00" cy="366.00" r="2.05" fill="#fbf7e2" />
<circle cx="140.00" cy="380.00" r="2.05" fill="#fbf7e2" />
<circle cx="84.10" cy="360.40" r="2.05" fill="#6ea0c0" />
<circle cx="57.40" cy="373.40" r="2.05" fill="#4a78b0" />
<circle cx="67.20" cy="378.00" r="2.05" fill="#f8c040" />
<circle cx="67.20" cy="381.90" r="2.05" fill="#f09030" />
<circle cx="75.70" cy="380.20" r="2.05" fill="#2c5ca8" />
<circle cx="84.80" cy="381.20" r="2.05" fill="#2a4a98" />
<circle cx="88.40" cy="383.60" r="2.05" fill="#4a98c0" />
<circle cx="90.00" cy="388.40" r="2.05" fill="#cc2828" />
<circle cx="90.30" cy="393.00" r="2.05" fill="#48b0b8" />
<circle cx="64.60" cy="387.80" r="2.05" fill="#1f3580" />
<circle cx="63.30" cy="392.30" r="2.05" fill="#5a8ac0" />
<polygon points="69.20,388.00 71.60,392.10 66.80,392.10" fill="#3060b0"/>
<circle cx="69.80" cy="393.00" r="2.05" fill="#2050a0" />
<circle cx="71.80" cy="393.00" r="2.05" fill="#62a4dc" />
<circle cx="68.50" cy="398.20" r="2.05" fill="#f0b030" />
<circle cx="71.80" cy="398.00" r="2.05" fill="#4080c0" />
<circle cx="75.00" cy="401.40" r="2.05" fill="#a8bcd0" />
<circle cx="52.20" cy="397.10" r="2.05" fill="#4a7a90" />
<circle cx="103.20" cy="358.50" r="2.05" fill="#e06030" />
<circle cx="104.50" cy="363.70" r="2.05" fill="#a02030" />
<circle cx="96.90" cy="372.80" r="2.05" fill="#50a0b0" />
<circle cx="114.90" cy="375.80" r="2.05" fill="#d05030" />
<circle cx="125.30" cy="370.60" r="2.05" fill="#d05030" />
<circle cx="124.90" cy="374.70" r="2.05" fill="#80d0e0" />
<circle cx="134.00" cy="361.50" r="2.05" fill="#e8d040" />
<circle cx="138.00" cy="366.70" r="2.05" fill="#f0e040" />
<circle cx="85.00" cy="381.20" r="2.05" fill="#203070" />
<circle cx="88.50" cy="383.90" r="2.05" fill="#4a90b0" />
<circle cx="90.20" cy="388.40" r="2.05" fill="#c02828" />
<circle cx="90.40" cy="393.60" r="2.05" fill="#40a8a0" />
<circle cx="104.70" cy="384.90" r="2.05" fill="#f0d040" />
<circle cx="103.20" cy="391.00" r="2.05" fill="#e07020" />
<circle cx="107.30" cy="389.00" r="2.05" fill="#f0a820" />
<circle cx="130.80" cy="383.20" r="2.05" fill="#a03030" />
<circle cx="129.50" cy="389.00" r="2.05" fill="#40a8c0" />
<polygon points="50.50,404.10 52.90,408.20 48.10,408.20" fill="#263a88"/>
<polygon points="53.00,404.10 55.40,408.20 50.60,408.20" fill="#263a88"/>
<polygon points="55.50,404.40 57.90,408.50 53.10,408.50" fill="#263a88"/>
<polygon points="51.50,402.80 53.90,406.90 49.10,406.90" fill="#2c4290"/>
<polygon points="54.50,402.80 56.90,406.90 52.10,406.90" fill="#263a88"/>
<circle cx="50.20" cy="407.60" r="2.05" fill="#263a88" />
<circle cx="52.50" cy="407.70" r="2.05" fill="#263a88" />
<circle cx="55.00" cy="407.60" r="2.05" fill="#263a88" />
<circle cx="57.00" cy="406.60" r="2.05" fill="#2a3e8c" />
<circle cx="58.50" cy="405.10" r="2.05" fill="#4a6088" />
<circle cx="57.00" cy="400.80" r="2.05" fill="#50688a" />
<rect x="161.00" y="397.50" width="14.50" height="30.50" fill="#ffffff" stroke="none" stroke-width="1" opacity="0.85"/>
<rect x="164.50" y="400.20" width="5.20" height="25.20" fill="url(#gD)" stroke="none" stroke-width="1" />
<text x="171.70" y="401.80" font-size="2.0" font-weight="normal" text-anchor="start" fill="#888" >1.0</text>
<text x="171.70" y="408.00" font-size="2.0" font-weight="normal" text-anchor="start" fill="#888" >0.5</text>
<text x="171.70" y="414.00" font-size="2.0" font-weight="normal" text-anchor="start" fill="#888" >0.00</text>
<text x="171.70" y="420.00" font-size="2.0" font-weight="normal" text-anchor="start" fill="#888" >-0.5</text>
<text x="171.70" y="425.80" font-size="2.0" font-weight="normal" text-anchor="start" fill="#888" >-1.0</text>
<rect x="222.50" y="296.00" width="141.90" height="132.20" fill="#ececec" stroke="none" stroke-width="1" />
<line x1="229.30" y1="296.00" x2="229.30" y2="428.20" stroke="#ffffff" stroke-width="1.0" stroke-opacity="0.8"/>
<line x1="242.25" y1="296.00" x2="242.25" y2="428.20" stroke="#ffffff" stroke-width="1.0" stroke-opacity="0.8"/>
<line x1="255.20" y1="296.00" x2="255.20" y2="428.20" stroke="#ffffff" stroke-width="1.0" stroke-opacity="0.8"/>
<line x1="268.15" y1="296.00" x2="268.15" y2="428.20" stroke="#ffffff" stroke-width="1.0" stroke-opacity="0.8"/>
<line x1="281.10" y1="296.00" x2="281.10" y2="428.20" stroke="#ffffff" stroke-width="1.0" stroke-opacity="0.8"/>
<line x1="294.05" y1="296.00" x2="294.05" y2="428.20" stroke="#ffffff" stroke-width="1.0" stroke-opacity="0.8"/>
<line x1="307.00" y1="296.00" x2="307.00" y2="428.20" stroke="#ffffff" stroke-width="1.0" stroke-opacity="0.8"/>
<line x1="319.95" y1="296.00" x2="319.95" y2="428.20" stroke="#ffffff" stroke-width="1.0" stroke-opacity="0.8"/>
<line x1="332.90" y1="296.00" x2="332.90" y2="428.20" stroke="#ffffff" stroke-width="1.0" stroke-opacity="0.8"/>
<line x1="345.85" y1="296.00" x2="345.85" y2="428.20" stroke="#ffffff" stroke-width="1.0" stroke-opacity="0.8"/>
<line x1="358.80" y1="296.00" x2="358.80" y2="428.20" stroke="#ffffff" stroke-width="1.0" stroke-opacity="0.8"/>
<line x1="222.50" y1="302.10" x2="364.40" y2="302.10" stroke="#ffffff" stroke-width="1.0" stroke-opacity="0.8"/>
<line x1="222.50" y1="314.20" x2="364.40" y2="314.20" stroke="#ffffff" stroke-width="1.0" stroke-opacity="0.8"/>
<line x1="222.50" y1="326.30" x2="364.40" y2="326.30" stroke="#ffffff" stroke-width="1.0" stroke-opacity="0.8"/>
<line x1="222.50" y1="338.40" x2="364.40" y2="338.40" stroke="#ffffff" stroke-width="1.0" stroke-opacity="0.8"/>
<line x1="222.50" y1="350.50" x2="364.40" y2="350.50" stroke="#ffffff" stroke-width="1.0" stroke-opacity="0.8"/>
<line x1="222.50" y1="362.60" x2="364.40" y2="362.60" stroke="#ffffff" stroke-width="1.0" stroke-opacity="0.8"/>
<line x1="222.50" y1="374.70" x2="364.40" y2="374.70" stroke="#ffffff" stroke-width="1.0" stroke-opacity="0.8"/>
<line x1="222.50" y1="386.80" x2="364.40" y2="386.80" stroke="#ffffff" stroke-width="1.0" stroke-opacity="0.8"/>
<line x1="222.50" y1="398.90" x2="364.40" y2="398.90" stroke="#ffffff" stroke-width="1.0" stroke-opacity="0.8"/>
<line x1="222.50" y1="411.00" x2="364.40" y2="411.00" stroke="#ffffff" stroke-width="1.0" stroke-opacity="0.8"/>
<line x1="222.50" y1="423.10" x2="364.40" y2="423.10" stroke="#ffffff" stroke-width="1.0" stroke-opacity="0.8"/>
<text x="293.20" y="286.30" font-size="8.0" font-weight="bold" text-anchor="middle" fill="#111" stroke="#111" stroke-width="0.24" stroke-linejoin="round" >Immune score via SCNV</text>
<rect x="194.90" y="296.00" width="16.60" height="130.80" fill="#ececec" stroke="none" stroke-width="1" />
<line x1="199.10" y1="296.00" x2="199.10" y2="426.80" stroke="#ffffff" stroke-width="0.8" stroke-opacity="0.3"/>
<line x1="203.30" y1="296.00" x2="203.30" y2="426.80" stroke="#ffffff" stroke-width="0.8" stroke-opacity="0.3"/>
<line x1="207.50" y1="296.00" x2="207.50" y2="426.80" stroke="#ffffff" stroke-width="0.8" stroke-opacity="0.3"/>
<line x1="194.90" y1="302.10" x2="211.50" y2="302.10" stroke="#ffffff" stroke-width="0.8" stroke-opacity="0.3"/>
<line x1="194.90" y1="314.20" x2="211.50" y2="314.20" stroke="#ffffff" stroke-width="0.8" stroke-opacity="0.3"/>
<line x1="194.90" y1="326.30" x2="211.50" y2="326.30" stroke="#ffffff" stroke-width="0.8" stroke-opacity="0.3"/>
<line x1="194.90" y1="338.40" x2="211.50" y2="338.40" stroke="#ffffff" stroke-width="0.8" stroke-opacity="0.3"/>
<line x1="194.90" y1="350.50" x2="211.50" y2="350.50" stroke="#ffffff" stroke-width="0.8" stroke-opacity="0.3"/>
<line x1="194.90" y1="362.60" x2="211.50" y2="362.60" stroke="#ffffff" stroke-width="0.8" stroke-opacity="0.3"/>
<line x1="194.90" y1="374.70" x2="211.50" y2="374.70" stroke="#ffffff" stroke-width="0.8" stroke-opacity="0.3"/>
<line x1="194.90" y1="386.80" x2="211.50" y2="386.80" stroke="#ffffff" stroke-width="0.8" stroke-opacity="0.3"/>
<line x1="194.90" y1="398.90" x2="211.50" y2="398.90" stroke="#ffffff" stroke-width="0.8" stroke-opacity="0.3"/>
<line x1="194.90" y1="411.00" x2="211.50" y2="411.00" stroke="#ffffff" stroke-width="0.8" stroke-opacity="0.3"/>
<line x1="194.90" y1="423.10" x2="211.50" y2="423.10" stroke="#ffffff" stroke-width="0.8" stroke-opacity="0.3"/>
<rect x="222.50" y="438.60" width="141.60" height="18.10" fill="#ececec" stroke="none" stroke-width="1" />
<line x1="229.30" y1="438.60" x2="229.30" y2="456.70" stroke="#ffffff" stroke-width="0.8" stroke-opacity="0.35"/>
<line x1="242.25" y1="438.60" x2="242.25" y2="456.70" stroke="#ffffff" stroke-width="0.8" stroke-opacity="0.35"/>
<line x1="255.20" y1="438.60" x2="255.20" y2="456.70" stroke="#ffffff" stroke-width="0.8" stroke-opacity="0.35"/>
<line x1="268.15" y1="438.60" x2="268.15" y2="456.70" stroke="#ffffff" stroke-width="0.8" stroke-opacity="0.35"/>
<line x1="281.10" y1="438.60" x2="281.10" y2="456.70" stroke="#ffffff" stroke-width="0.8" stroke-opacity="0.35"/>
<line x1="294.05" y1="438.60" x2="294.05" y2="456.70" stroke="#ffffff" stroke-width="0.8" stroke-opacity="0.35"/>
<line x1="307.00" y1="438.60" x2="307.00" y2="456.70" stroke="#ffffff" stroke-width="0.8" stroke-opacity="0.35"/>
<line x1="319.95" y1="438.60" x2="319.95" y2="456.70" stroke="#ffffff" stroke-width="0.8" stroke-opacity="0.35"/>
<line x1="332.90" y1="438.60" x2="332.90" y2="456.70" stroke="#ffffff" stroke-width="0.8" stroke-opacity="0.35"/>
<line x1="345.85" y1="438.60" x2="345.85" y2="456.70" stroke="#ffffff" stroke-width="0.8" stroke-opacity="0.35"/>
<line x1="358.80" y1="438.60" x2="358.80" y2="456.70" stroke="#ffffff" stroke-width="0.8" stroke-opacity="0.35"/>
<line x1="222.50" y1="443.10" x2="364.10" y2="443.10" stroke="#ffffff" stroke-width="0.8" stroke-opacity="0.35"/>
<line x1="222.50" y1="447.60" x2="364.10" y2="447.60" stroke="#ffffff" stroke-width="0.8" stroke-opacity="0.35"/>
<line x1="222.50" y1="452.10" x2="364.10" y2="452.10" stroke="#ffffff" stroke-width="0.8" stroke-opacity="0.35"/>
<path d="M211.5,345 C209,350 205,355 203.5,360 C203,366 204,372 202,378 C200.5,384 203,391 206,394 C208,396 210,397 211.5,398 Z" fill="#7fd0d8" fill-opacity="0.62"/><path d="M211.5,391 C206,394 198,398 196.5,402 C196,407 199,410 203,413 C206,415 209,416 211.5,416.5 Z" fill="#f6b0b0" fill-opacity="0.6"/>
<path d="M228,439 C234,441 238,444.5 242.6,450.6 C245,451.5 248,450 249,449.5 C251,447 253,445.5 256,443.5 C260,442 264,441 270,439.8 L276,439 Z" fill="#f6b0b0" fill-opacity="0.6"/><path d="M238,439 C245,440 252,441.5 258,443 C263,444.5 268,445.5 275,446 C283,446.3 290,445.5 296,444.8 C305,443.5 320,442.5 339,441 L356,439 Z" fill="#7fd0d8" fill-opacity="0.68"/>
<line x1="194.90" y1="378.00" x2="211.50" y2="378.00" stroke="#1f2d5c" stroke-width="1.4" />
<line x1="194.90" y1="394.80" x2="211.50" y2="394.80" stroke="#d04048" stroke-width="1.4" />
<line x1="253.80" y1="438.60" x2="253.80" y2="456.70" stroke="#c04048" stroke-width="1.4" />
<line x1="281.30" y1="438.60" x2="281.30" y2="456.70" stroke="#1f2d5c" stroke-width="1.4" />
<text x="195.70" y="294.00" font-size="4.3" font-weight="bold" text-anchor="start" fill="#222" stroke="#222" stroke-width="0.14" stroke-linejoin="round" >Density</text>
<text x="0" y="0" font-size="5.25" font-weight="bold" fill="#111" text-anchor="middle" transform="translate(219.60,367.2) rotate(-90)">Arm level SCNV</text>
<text x="293.50" y="437.20" font-size="5.05" font-weight="bold" text-anchor="middle" fill="#111" stroke="#111" stroke-width="0.15" stroke-linejoin="round" >Focal level SCNV</text>
<text x="0" y="0" font-size="4.3" font-weight="bold" fill="#222" text-anchor="middle" transform="translate(367.50,448.6) rotate(90)">Density</text>
<text x="194.70" y="434.00" font-size="4.4" font-weight="bold" text-anchor="middle" fill="#444" stroke="#444" stroke-width="0.14" stroke-linejoin="round" >1</text>
<text x="211.30" y="434.00" font-size="4.4" font-weight="bold" text-anchor="middle" fill="#444" stroke="#444" stroke-width="0.14" stroke-linejoin="round" >0</text>
<text x="218.60" y="440.70" font-size="4.4" font-weight="bold" text-anchor="middle" fill="#444" stroke="#444" stroke-width="0.14" stroke-linejoin="round" >0</text>
<text x="218.50" y="457.60" font-size="4.4" font-weight="bold" text-anchor="middle" fill="#444" stroke="#444" stroke-width="0.14" stroke-linejoin="round" >1</text>
<line x1="221.30" y1="314.20" x2="222.50" y2="314.20" stroke="#999" stroke-width="0.4" />
<text x="220.70" y="315.00" font-size="2.2" font-weight="normal" text-anchor="end" fill="#999" >-</text>
<line x1="221.30" y1="338.40" x2="222.50" y2="338.40" stroke="#999" stroke-width="0.4" />
<text x="220.70" y="339.20" font-size="2.2" font-weight="normal" text-anchor="end" fill="#999" >-</text>
<line x1="221.30" y1="362.60" x2="222.50" y2="362.60" stroke="#999" stroke-width="0.4" />
<text x="220.70" y="363.40" font-size="2.2" font-weight="normal" text-anchor="end" fill="#999" >-</text>
<line x1="221.30" y1="386.80" x2="222.50" y2="386.80" stroke="#999" stroke-width="0.4" />
<text x="220.70" y="387.60" font-size="2.2" font-weight="normal" text-anchor="end" fill="#999" >-</text>
<line x1="221.30" y1="411.00" x2="222.50" y2="411.00" stroke="#999" stroke-width="0.4" />
<text x="220.70" y="411.80" font-size="2.2" font-weight="normal" text-anchor="end" fill="#999" >-</text>
<line x1="242.25" y1="428.20" x2="242.25" y2="429.40" stroke="#999" stroke-width="0.4" />
<line x1="268.15" y1="428.20" x2="268.15" y2="429.40" stroke="#999" stroke-width="0.4" />
<line x1="294.05" y1="428.20" x2="294.05" y2="429.40" stroke="#999" stroke-width="0.4" />
<line x1="319.95" y1="428.20" x2="319.95" y2="429.40" stroke="#999" stroke-width="0.4" />
<line x1="345.85" y1="428.20" x2="345.85" y2="429.40" stroke="#999" stroke-width="0.4" />
<circle cx="254.00" cy="307.50" r="2.9" fill="#ffffff" opacity="0.55"/>
<circle cx="280.00" cy="355.90" r="2.9" fill="#ffffff" opacity="0.55"/>
<circle cx="258.70" cy="365.90" r="2.9" fill="#ffffff" opacity="0.55"/>
<circle cx="266.30" cy="366.30" r="2.9" fill="#ffffff" opacity="0.55"/>
<circle cx="270.20" cy="374.70" r="2.9" fill="#ffffff" opacity="0.55"/>
<circle cx="277.30" cy="378.40" r="2.9" fill="#ffffff" opacity="0.55"/>
<circle cx="263.40" cy="380.00" r="2.9" fill="#ffffff" opacity="0.55"/>
<circle cx="254.80" cy="381.20" r="2.9" fill="#ffffff" opacity="0.55"/>
<circle cx="254.60" cy="384.10" r="2.9" fill="#ffffff" opacity="0.55"/>
<circle cx="270.40" cy="384.90" r="2.9" fill="#ffffff" opacity="0.55"/>
<circle cx="277.70" cy="388.00" r="2.9" fill="#ffffff" opacity="0.55"/>
<circle cx="267.80" cy="391.90" r="2.9" fill="#ffffff" opacity="0.55"/>
<circle cx="278.30" cy="393.60" r="2.9" fill="#ffffff" opacity="0.55"/>
<circle cx="251.70" cy="392.70" r="2.9" fill="#ffffff" opacity="0.55"/>
<circle cx="256.50" cy="391.70" r="2.9" fill="#ffffff" opacity="0.55"/>
<circle cx="261.70" cy="398.80" r="2.9" fill="#ffffff" opacity="0.55"/>
<circle cx="260.50" cy="398.00" r="2.9" fill="#ffffff" opacity="0.55"/>
<circle cx="251.30" cy="400.10" r="2.9" fill="#ffffff" opacity="0.55"/>
<circle cx="291.10" cy="358.00" r="2.9" fill="#ffffff" opacity="0.55"/>
<circle cx="299.70" cy="357.20" r="2.9" fill="#ffffff" opacity="0.55"/>
<circle cx="288.00" cy="362.50" r="2.9" fill="#ffffff" opacity="0.55"/>
<circle cx="292.70" cy="363.80" r="2.9" fill="#ffffff" opacity="0.55"/>
<circle cx="321.80" cy="361.10" r="2.9" fill="#ffffff" opacity="0.55"/>
<circle cx="307.50" cy="365.00" r="2.9" fill="#ffffff" opacity="0.55"/>
<circle cx="326.00" cy="366.00" r="2.9" fill="#ffffff" opacity="0.55"/>
<circle cx="327.50" cy="367.80" r="2.9" fill="#ffffff" opacity="0.55"/>
<circle cx="348.10" cy="363.40" r="2.9" fill="#ffffff" opacity="0.55"/>
<circle cx="313.40" cy="370.30" r="2.9" fill="#ffffff" opacity="0.55"/>
<circle cx="284.60" cy="372.80" r="2.9" fill="#ffffff" opacity="0.55"/>
<circle cx="302.80" cy="375.50" r="2.9" fill="#ffffff" opacity="0.55"/>
<circle cx="315.90" cy="375.50" r="2.9" fill="#ffffff" opacity="0.55"/>
<circle cx="277.40" cy="378.70" r="2.9" fill="#ffffff" opacity="0.55"/>
<circle cx="318.40" cy="382.60" r="2.9" fill="#ffffff" opacity="0.55"/>
<circle cx="291.90" cy="384.00" r="2.9" fill="#ffffff" opacity="0.55"/>
<circle cx="277.80" cy="387.90" r="2.9" fill="#ffffff" opacity="0.55"/>
<circle cx="295.00" cy="389.80" r="2.9" fill="#ffffff" opacity="0.55"/>
<circle cx="316.90" cy="388.80" r="2.9" fill="#ffffff" opacity="0.55"/>
<circle cx="278.20" cy="393.10" r="2.9" fill="#ffffff" opacity="0.55"/>
<circle cx="272.00" cy="360.50" r="2.9" fill="#ffffff" opacity="0.55"/>
<circle cx="272.00" cy="367.00" r="2.9" fill="#ffffff" opacity="0.55"/>
<circle cx="274.00" cy="377.00" r="2.9" fill="#ffffff" opacity="0.55"/>
<circle cx="281.00" cy="384.00" r="2.9" fill="#ffffff" opacity="0.55"/>
<circle cx="285.00" cy="396.00" r="2.9" fill="#ffffff" opacity="0.55"/>
<circle cx="296.00" cy="397.00" r="2.9" fill="#ffffff" opacity="0.55"/>
<circle cx="246.00" cy="385.00" r="2.9" fill="#ffffff" opacity="0.55"/>
<circle cx="256.00" cy="377.00" r="2.9" fill="#ffffff" opacity="0.55"/>
<circle cx="240.00" cy="399.00" r="2.9" fill="#ffffff" opacity="0.55"/>
<circle cx="235.50" cy="407.30" r="2.9" fill="#ffffff" opacity="0.55"/>
<circle cx="237.50" cy="406.50" r="2.9" fill="#ffffff" opacity="0.55"/>
<circle cx="236.50" cy="408.20" r="2.9" fill="#ffffff" opacity="0.55"/>
<circle cx="239.00" cy="405.80" r="2.9" fill="#ffffff" opacity="0.55"/>
<circle cx="241.50" cy="407.50" r="2.9" fill="#ffffff" opacity="0.55"/>
<circle cx="243.50" cy="406.50" r="2.9" fill="#ffffff" opacity="0.55"/>
<circle cx="242.50" cy="408.00" r="2.9" fill="#ffffff" opacity="0.55"/>
<circle cx="244.50" cy="407.80" r="2.9" fill="#ffffff" opacity="0.55"/>
<circle cx="239.50" cy="363.70" r="2.9" fill="#ffffff" opacity="0.55"/>
<circle cx="254.00" cy="307.50" r="2.05" fill="#fafac0" />
<circle cx="280.00" cy="355.90" r="2.05" fill="#70c8d8" />
<circle cx="258.70" cy="365.90" r="2.05" fill="#4a70b0" />
<circle cx="266.30" cy="366.30" r="2.05" fill="#5080b8" />
<circle cx="270.20" cy="374.70" r="2.05" fill="#384a88" />
<circle cx="277.30" cy="378.40" r="2.05" fill="#384a88" />
<circle cx="263.40" cy="380.00" r="2.05" fill="#303878" />
<circle cx="254.80" cy="381.20" r="2.05" fill="#70b0d8" />
<circle cx="254.60" cy="384.10" r="2.05" fill="#90d8e8" />
<circle cx="270.40" cy="384.90" r="2.05" fill="#60a8d0" />
<circle cx="277.70" cy="388.00" r="2.05" fill="#202838" />
<circle cx="267.80" cy="391.90" r="2.05" fill="#28407a" />
<polygon points="278.30,391.20 280.70,395.30 275.90,395.30" fill="#4060a8"/>
<circle cx="251.70" cy="392.70" r="2.05" fill="#50a8b8" />
<circle cx="256.50" cy="391.70" r="2.05" fill="#f0d040" />
<polygon points="261.70,396.40 264.10,400.50 259.30,400.50" fill="#c03020"/>
<circle cx="260.50" cy="398.00" r="2.05" fill="#f0d040" />
<circle cx="251.30" cy="400.10" r="2.05" fill="#fbf7e2" />
<circle cx="291.10" cy="358.00" r="2.05" fill="#303c78" />
<circle cx="299.70" cy="357.20" r="2.05" fill="#303c78" />
<circle cx="288.00" cy="362.50" r="2.05" fill="#303c78" />
<circle cx="292.70" cy="363.80" r="2.05" fill="#202850" />
<circle cx="321.80" cy="361.10" r="2.05" fill="#202850" />
<circle cx="307.50" cy="365.00" r="2.05" fill="#5070a0" />
<circle cx="326.00" cy="366.00" r="2.05" fill="#70c0d0" />
<circle cx="327.50" cy="367.80" r="2.05" fill="#70c0d0" />
<circle cx="348.10" cy="363.40" r="2.05" fill="#3c4c80" />
<circle cx="313.40" cy="370.30" r="2.05" fill="#303c78" />
<circle cx="284.60" cy="372.80" r="2.05" fill="#e0a020" />
<circle cx="302.80" cy="375.50" r="2.05" fill="#5070a0" />
<circle cx="315.90" cy="375.50" r="2.05" fill="#40a8c0" />
<circle cx="277.40" cy="378.70" r="2.05" fill="#303c78" />
<circle cx="318.40" cy="382.60" r="2.05" fill="#4070b0" />
<circle cx="291.90" cy="384.00" r="2.05" fill="#303c78" />
<circle cx="277.80" cy="387.90" r="2.05" fill="#202030" />
<circle cx="295.00" cy="389.80" r="2.05" fill="#303c78" />
<circle cx="316.90" cy="388.80" r="2.05" fill="#303c78" />
<circle cx="278.20" cy="393.10" r="2.05" fill="#4060b0" />
<circle cx="272.00" cy="360.50" r="2.05" fill="#fbf7e2" />
<circle cx="272.00" cy="367.00" r="2.05" fill="#fbf7e2" />
<circle cx="274.00" cy="377.00" r="2.05" fill="#fbf7e2" />
<circle cx="281.00" cy="384.00" r="2.05" fill="#fbf7e2" />
<circle cx="285.00" cy="396.00" r="2.05" fill="#fbf7e2" />
<circle cx="296.00" cy="397.00" r="2.05" fill="#fbf7e2" />
<circle cx="246.00" cy="385.00" r="2.05" fill="#fbf7e2" />
<circle cx="256.00" cy="377.00" r="2.05" fill="#fbf7e2" />
<circle cx="240.00" cy="399.00" r="2.05" fill="#fbf7e2" />
<circle cx="235.50" cy="407.30" r="2.05" fill="#f5c830" />
<polygon points="237.50,404.10 239.90,408.20 235.10,408.20" fill="#f8d040"/>
<circle cx="236.50" cy="408.20" r="2.05" fill="#f0c030" />
<circle cx="239.00" cy="405.80" r="2.05" fill="#e09020" />
<circle cx="241.50" cy="407.50" r="2.05" fill="#d02838" />
<polygon points="243.50,404.10 245.90,408.20 241.10,408.20" fill="#b81c30"/>
<circle cx="242.50" cy="408.00" r="2.05" fill="#c82030" />
<circle cx="244.50" cy="407.80" r="2.05" fill="#d83040" />
<circle cx="239.50" cy="363.70" r="2.05" fill="#fdfdfa" />
<rect x="348.90" y="397.50" width="14.50" height="30.50" fill="#ffffff" stroke="none" stroke-width="1" opacity="0.85"/>
<rect x="352.40" y="400.20" width="5.20" height="25.20" fill="url(#gD)" stroke="none" stroke-width="1" />
<text x="359.60" y="401.80" font-size="2.0" font-weight="normal" text-anchor="start" fill="#888" >1.0</text>
<text x="359.60" y="408.00" font-size="2.0" font-weight="normal" text-anchor="start" fill="#888" >0.5</text>
<text x="359.60" y="414.00" font-size="2.0" font-weight="normal" text-anchor="start" fill="#888" >0.00</text>
<text x="359.60" y="420.00" font-size="2.0" font-weight="normal" text-anchor="start" fill="#888" >-0.5</text>
<text x="359.60" y="425.80" font-size="2.0" font-weight="normal" text-anchor="start" fill="#888" >-1.0</text>
<text x="0" y="0" font-size="5.4" font-weight="bold" fill="#222" transform="translate(435.6,302.6) rotate(-45)"><tspan x="0" y="0" textLength="17.5" lengthAdjust="spacingAndGlyphs">Subtype</tspan><tspan x="7.3" y="5.6">A</tspan></text>
<text x="0" y="0" font-size="5.4" font-weight="bold" fill="#222" transform="translate(454.0,302.6) rotate(-45)"><tspan x="0" y="0" textLength="17.5" lengthAdjust="spacingAndGlyphs">Subtype</tspan><tspan x="7.3" y="5.6">B</tspan></text>
<rect x="381.20" y="310.90" width="42.60" height="36.50" fill="#fff" stroke="#9a9a9a" stroke-width="1.0" />
<text x="402.50" y="320.90" font-size="5.45" font-weight="bold" text-anchor="middle" fill="#222" stroke="#222" stroke-width="0.16" stroke-linejoin="round" >Correlation</text>
<text x="402.50" y="327.65" font-size="5.45" font-weight="bold" text-anchor="middle" fill="#222" stroke="#222" stroke-width="0.16" stroke-linejoin="round" >with</text>
<text x="402.50" y="334.40" font-size="5.45" font-weight="bold" text-anchor="middle" fill="#222" stroke="#222" stroke-width="0.16" stroke-linejoin="round" >cell cycle</text>
<text x="402.50" y="341.15" font-size="5.45" font-weight="bold" text-anchor="middle" fill="#222" stroke="#222" stroke-width="0.16" stroke-linejoin="round" >score</text>
<rect x="426.60" y="310.90" width="18.60" height="18.85" fill="#fde2e2" stroke="none" stroke-width="1" />
<text x="435.65" y="322.00" font-size="5.1" font-weight="bold" text-anchor="middle" fill="#111" stroke="#111" stroke-width="0.15" stroke-linejoin="round" >0.15</text>
<rect x="444.70" y="310.90" width="18.10" height="18.85" fill="#8293c4" stroke="none" stroke-width="1" />
<text x="453.75" y="322.00" font-size="5.1" font-weight="bold" text-anchor="middle" fill="#111" stroke="#111" stroke-width="0.15" stroke-linejoin="round" >-0.49</text>
<rect x="426.60" y="329.25" width="18.60" height="18.35" fill="#ef8585" stroke="none" stroke-width="1" />
<text x="435.65" y="340.35" font-size="5.1" font-weight="bold" text-anchor="middle" fill="#111" stroke="#111" stroke-width="0.15" stroke-linejoin="round" >0.46</text>
<rect x="444.70" y="329.25" width="18.10" height="18.35" fill="#6e82b6" stroke="none" stroke-width="1" />
<text x="453.75" y="340.35" font-size="5.1" font-weight="bold" text-anchor="middle" fill="#111" stroke="#111" stroke-width="0.15" stroke-linejoin="round" >-0.62</text>
<rect x="426.60" y="310.90" width="36.20" height="36.70" fill="none" stroke="#888" stroke-width="1.0" />
<text x="468.30" y="323.00" font-size="6.3" font-weight="bold" text-anchor="start" fill="#222" stroke="#222" stroke-width="0.19" stroke-linejoin="round" >Arm level SCNV</text>
<text x="468.30" y="340.80" font-size="6.3" font-weight="bold" text-anchor="start" fill="#222" stroke="#222" stroke-width="0.19" stroke-linejoin="round" >Focal level SCNV</text>
<rect x="381.20" y="349.90" width="42.60" height="36.50" fill="#fff" stroke="#9a9a9a" stroke-width="1.0" />
<text x="402.50" y="359.90" font-size="5.45" font-weight="bold" text-anchor="middle" fill="#222" stroke="#222" stroke-width="0.16" stroke-linejoin="round" >Correlation</text>
<text x="402.50" y="366.65" font-size="5.45" font-weight="bold" text-anchor="middle" fill="#222" stroke="#222" stroke-width="0.16" stroke-linejoin="round" >with</text>
<text x="402.50" y="373.40" font-size="5.45" font-weight="bold" text-anchor="middle" fill="#222" stroke="#222" stroke-width="0.16" stroke-linejoin="round" >immune</text>
<text x="402.50" y="380.15" font-size="5.45" font-weight="bold" text-anchor="middle" fill="#222" stroke="#222" stroke-width="0.16" stroke-linejoin="round" >score</text>
<rect x="426.60" y="349.90" width="18.60" height="18.85" fill="#c8cee6" stroke="none" stroke-width="1" />
<text x="435.65" y="361.00" font-size="5.1" font-weight="bold" text-anchor="middle" fill="#111" stroke="#111" stroke-width="0.15" stroke-linejoin="round" >-0.26</text>
<rect x="444.70" y="349.90" width="18.10" height="18.85" fill="#ffffff" stroke="none" stroke-width="1" />
<text x="453.75" y="361.00" font-size="5.1" font-weight="bold" text-anchor="middle" fill="#111" stroke="#111" stroke-width="0.15" stroke-linejoin="round" >0.05</text>
<rect x="426.60" y="368.25" width="18.60" height="18.35" fill="#8797c8" stroke="none" stroke-width="1" />
<text x="435.65" y="379.35" font-size="5.1" font-weight="bold" text-anchor="middle" fill="#111" stroke="#111" stroke-width="0.15" stroke-linejoin="round" >-0.51</text>
<rect x="444.70" y="368.25" width="18.10" height="18.35" fill="#e05555" stroke="none" stroke-width="1" />
<text x="453.75" y="379.35" font-size="5.1" font-weight="bold" text-anchor="middle" fill="#111" stroke="#111" stroke-width="0.15" stroke-linejoin="round" >0.67</text>
<rect x="426.60" y="349.90" width="36.20" height="36.70" fill="none" stroke="#888" stroke-width="1.0" />
<text x="468.30" y="362.00" font-size="6.3" font-weight="bold" text-anchor="start" fill="#222" stroke="#222" stroke-width="0.19" stroke-linejoin="round" >Arm level SCNV</text>
<text x="468.30" y="379.80" font-size="6.3" font-weight="bold" text-anchor="start" fill="#222" stroke="#222" stroke-width="0.19" stroke-linejoin="round" >Focal level SCNV</text>
<text x="436.00" y="397.80" font-size="6.8" font-weight="bold" text-anchor="start" fill="#222" stroke="#222" stroke-width="0.20" stroke-linejoin="round" >Highest</text>
<text x="436.00" y="455.20" font-size="6.8" font-weight="bold" text-anchor="start" fill="#222" stroke="#222" stroke-width="0.20" stroke-linejoin="round" >Lowest</text>
<rect x="437.00" y="402.00" width="9.80" height="43.80" fill="url(#gF)" stroke="none" stroke-width="1" />
<circle cx="387.60" cy="408.90" r="3.2" fill="#111" />
<polygon points="388,415.0 392.3,421.6 383.7,421.6" fill="#111"/>
<rect x="384.20" y="425.80" width="7.20" height="6.60" fill="#9cdbe8" stroke="none" stroke-width="1" />
<rect x="384.20" y="435.80" width="7.20" height="6.70" fill="#f9d0d0" stroke="none" stroke-width="1" />
<text x="395.30" y="411.10" font-size="6.5" font-weight="bold" text-anchor="start" fill="#333" stroke="#333" stroke-width="0.20" stroke-linejoin="round" >Subtype A</text>
<text x="395.30" y="421.10" font-size="6.5" font-weight="bold" text-anchor="start" fill="#333" stroke="#333" stroke-width="0.20" stroke-linejoin="round" >Subtype B</text>
<text x="395.30" y="431.30" font-size="6.5" font-weight="bold" text-anchor="start" fill="#333" stroke="#333" stroke-width="0.20" stroke-linejoin="round" >Low score</text>
<text x="395.30" y="441.40" font-size="6.5" font-weight="bold" text-anchor="start" fill="#333" stroke="#333" stroke-width="0.20" stroke-linejoin="round" >High score</text>
</svg>
</body></html>
